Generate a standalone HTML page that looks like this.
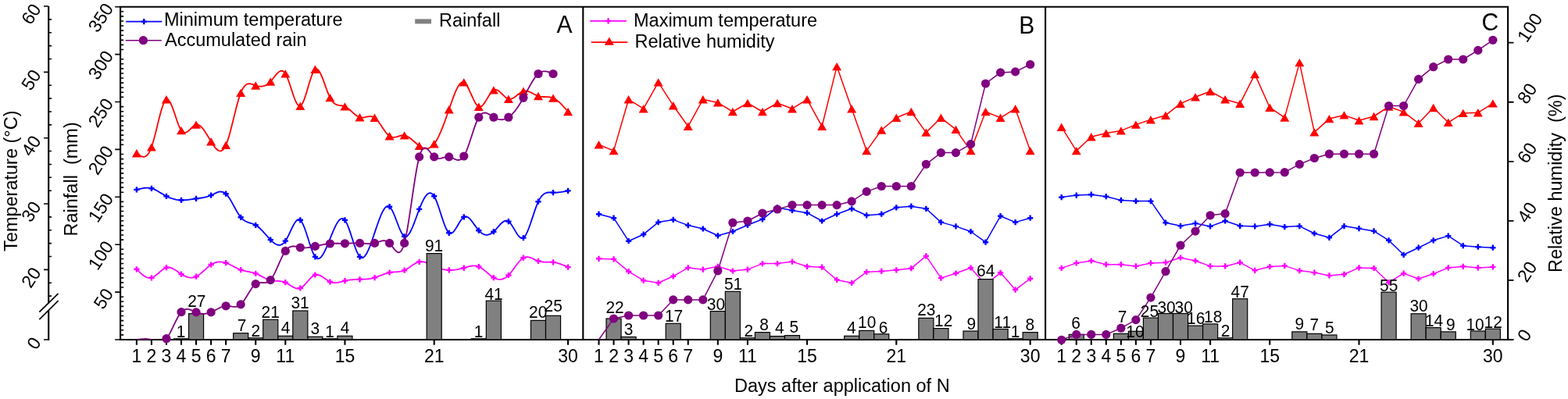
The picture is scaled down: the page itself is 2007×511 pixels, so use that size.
<!DOCTYPE html><html><head><meta charset="utf-8"><style>html,body{margin:0;padding:0;background:#fff;overflow:hidden}svg{display:block}</style></head><body>
<svg width="2007" height="511" viewBox="0 0 2007 511" font-family="Liberation Sans, Arial, sans-serif">
<defs><clipPath id="plot"><rect x="154" y="0" width="1776" height="435"/></clipPath></defs>
<g stroke="#000" stroke-width="2.1" fill="none">
<path d="M154.1,8.7 H1930.1 V435.0 H154.1 Z"/>
<path d="M746.3,8.7 V435.0 M1338.1,8.7 V435.0"/>
</g>
<path d="M174.90,435.0v6.8M193.94,435.0v6.8M212.98,435.0v6.8M232.02,435.0v6.8M251.06,435.0v6.8M270.10,435.0v6.8M289.14,435.0v6.8M327.22,435.0v6.8M365.30,435.0v6.8M441.46,435.0v6.8M555.70,435.0v6.8M727.06,435.0v6.8M766.50,435.0v6.8M785.54,435.0v6.8M804.58,435.0v6.8M823.62,435.0v6.8M842.66,435.0v6.8M861.70,435.0v6.8M880.74,435.0v6.8M918.82,435.0v6.8M956.90,435.0v6.8M1033.06,435.0v6.8M1147.30,435.0v6.8M1318.66,435.0v6.8M1358.70,435.0v6.8M1377.74,435.0v6.8M1396.78,435.0v6.8M1415.82,435.0v6.8M1434.86,435.0v6.8M1453.90,435.0v6.8M1472.94,435.0v6.8M1511.02,435.0v6.8M1549.10,435.0v6.8M1625.26,435.0v6.8M1739.50,435.0v6.8M1910.86,435.0v6.8" stroke="#000" stroke-width="2.1"/>
<text x="174.90" y="464.4" font-size="23" text-anchor="middle">1</text>
<text x="193.94" y="464.4" font-size="23" text-anchor="middle">2</text>
<text x="212.98" y="464.4" font-size="23" text-anchor="middle">3</text>
<text x="232.02" y="464.4" font-size="23" text-anchor="middle">4</text>
<text x="251.06" y="464.4" font-size="23" text-anchor="middle">5</text>
<text x="270.10" y="464.4" font-size="23" text-anchor="middle">6</text>
<text x="289.14" y="464.4" font-size="23" text-anchor="middle">7</text>
<text x="327.22" y="464.4" font-size="23" text-anchor="middle">9</text>
<text x="365.30" y="464.4" font-size="23" text-anchor="middle">11</text>
<text x="441.46" y="464.4" font-size="23" text-anchor="middle">15</text>
<text x="555.70" y="464.4" font-size="23" text-anchor="middle">21</text>
<text x="727.06" y="464.4" font-size="23" text-anchor="middle">30</text>
<text x="766.50" y="464.4" font-size="23" text-anchor="middle">1</text>
<text x="785.54" y="464.4" font-size="23" text-anchor="middle">2</text>
<text x="804.58" y="464.4" font-size="23" text-anchor="middle">3</text>
<text x="823.62" y="464.4" font-size="23" text-anchor="middle">4</text>
<text x="842.66" y="464.4" font-size="23" text-anchor="middle">5</text>
<text x="861.70" y="464.4" font-size="23" text-anchor="middle">6</text>
<text x="880.74" y="464.4" font-size="23" text-anchor="middle">7</text>
<text x="918.82" y="464.4" font-size="23" text-anchor="middle">9</text>
<text x="956.90" y="464.4" font-size="23" text-anchor="middle">11</text>
<text x="1033.06" y="464.4" font-size="23" text-anchor="middle">15</text>
<text x="1147.30" y="464.4" font-size="23" text-anchor="middle">21</text>
<text x="1318.66" y="464.4" font-size="23" text-anchor="middle">30</text>
<text x="1358.70" y="464.4" font-size="23" text-anchor="middle">1</text>
<text x="1377.74" y="464.4" font-size="23" text-anchor="middle">2</text>
<text x="1396.78" y="464.4" font-size="23" text-anchor="middle">3</text>
<text x="1415.82" y="464.4" font-size="23" text-anchor="middle">4</text>
<text x="1434.86" y="464.4" font-size="23" text-anchor="middle">5</text>
<text x="1453.90" y="464.4" font-size="23" text-anchor="middle">6</text>
<text x="1472.94" y="464.4" font-size="23" text-anchor="middle">7</text>
<text x="1511.02" y="464.4" font-size="23" text-anchor="middle">9</text>
<text x="1549.10" y="464.4" font-size="23" text-anchor="middle">11</text>
<text x="1625.26" y="464.4" font-size="23" text-anchor="middle">15</text>
<text x="1739.50" y="464.4" font-size="23" text-anchor="middle">21</text>
<text x="1910.86" y="464.4" font-size="23" text-anchor="middle">30</text>
<path d="M147.2,435.00H154.1M154.1,428.91H158.2M154.1,422.82H158.2M154.1,416.73H158.2M154.1,410.64H158.2M154.1,404.55H158.2M154.1,398.46H158.2M154.1,392.37H158.2M154.1,386.28H158.2M154.1,380.19H158.2M147.2,374.10H154.1M154.1,368.01H158.2M154.1,361.92H158.2M154.1,355.83H158.2M154.1,349.74H158.2M154.1,343.65H158.2M154.1,337.56H158.2M154.1,331.47H158.2M154.1,325.38H158.2M154.1,319.29H158.2M147.2,313.20H154.1M154.1,307.11H158.2M154.1,301.02H158.2M154.1,294.93H158.2M154.1,288.84H158.2M154.1,282.75H158.2M154.1,276.66H158.2M154.1,270.57H158.2M154.1,264.48H158.2M154.1,258.39H158.2M147.2,252.30H154.1M154.1,246.21H158.2M154.1,240.12H158.2M154.1,234.03H158.2M154.1,227.94H158.2M154.1,221.85H158.2M154.1,215.76H158.2M154.1,209.67H158.2M154.1,203.58H158.2M154.1,197.49H158.2M147.2,191.40H154.1M154.1,185.31H158.2M154.1,179.22H158.2M154.1,173.13H158.2M154.1,167.04H158.2M154.1,160.95H158.2M154.1,154.86H158.2M154.1,148.77H158.2M154.1,142.68H158.2M154.1,136.59H158.2M147.2,130.50H154.1M154.1,124.41H158.2M154.1,118.32H158.2M154.1,112.23H158.2M154.1,106.14H158.2M154.1,100.05H158.2M154.1,93.96H158.2M154.1,87.87H158.2M154.1,81.78H158.2M154.1,75.69H158.2M147.2,69.60H154.1M154.1,63.51H158.2M154.1,57.42H158.2M154.1,51.33H158.2M154.1,45.24H158.2M154.1,39.15H158.2M154.1,33.06H158.2M154.1,26.97H158.2M154.1,20.88H158.2M154.1,14.79H158.2M147.2,8.70H154.1" stroke="#000" stroke-width="1.6"/>
<text x="146.0" y="376.10" font-size="23" text-anchor="end" transform="rotate(-57 146.0 376.10)">50</text>
<text x="146.0" y="315.20" font-size="23" text-anchor="end" transform="rotate(-57 146.0 315.20)">100</text>
<text x="146.0" y="254.30" font-size="23" text-anchor="end" transform="rotate(-57 146.0 254.30)">150</text>
<text x="146.0" y="193.40" font-size="23" text-anchor="end" transform="rotate(-57 146.0 193.40)">200</text>
<text x="146.0" y="132.50" font-size="23" text-anchor="end" transform="rotate(-57 146.0 132.50)">250</text>
<text x="146.0" y="71.60" font-size="23" text-anchor="end" transform="rotate(-57 146.0 71.60)">300</text>
<text x="146.0" y="10.70" font-size="23" text-anchor="end" transform="rotate(-57 146.0 10.70)">350</text>
<path d="M62.2,8.0V388.5 M62.2,397.5V436.0" stroke="#000" stroke-width="2.1" fill="none"/>
<path d="M62.2,379.14H66M62.2,362.27H66M56,345.40H62.2M62.2,328.53H66M62.2,311.66H66M62.2,294.79H66M62.2,277.92H66M56,261.05H62.2M62.2,244.18H66M62.2,227.31H66M62.2,210.44H66M62.2,193.57H66M56,176.70H62.2M62.2,159.83H66M62.2,142.96H66M62.2,126.09H66M62.2,109.22H66M56,92.35H62.2M62.2,75.48H66M62.2,58.61H66M62.2,41.74H66M62.2,24.87H66M56,8.00H62.2M56,435.0H62.2" stroke="#000" stroke-width="1.6"/>
<path d="M50.3,399.7L74.6,375.8M50.3,409.1L74.6,385.2" stroke="#000" stroke-width="1.7"/>
<text x="53.5" y="11.50" font-size="23" text-anchor="end" transform="rotate(-57 53.5 11.50)">60</text>
<text x="53.5" y="95.85" font-size="23" text-anchor="end" transform="rotate(-57 53.5 95.85)">50</text>
<text x="53.5" y="180.20" font-size="23" text-anchor="end" transform="rotate(-57 53.5 180.20)">40</text>
<text x="53.5" y="264.55" font-size="23" text-anchor="end" transform="rotate(-57 53.5 264.55)">30</text>
<text x="53.5" y="348.90" font-size="23" text-anchor="end" transform="rotate(-57 53.5 348.90)">20</text>
<text x="53.5" y="438.50" font-size="23" text-anchor="end" transform="rotate(-57 53.5 438.50)">0</text>
<path d="M1930.1,435.00H1937.5M1930.1,358.94H1937.5M1930.1,282.88H1937.5M1930.1,206.82H1937.5M1930.1,130.76H1937.5M1930.1,54.70H1937.5" stroke="#000" stroke-width="1.8"/>
<text x="1954.3" y="439.00" font-size="23" transform="rotate(-57 1954.3 439.00)">0</text>
<text x="1954.3" y="362.94" font-size="23" transform="rotate(-57 1954.3 362.94)">20</text>
<text x="1954.3" y="286.88" font-size="23" transform="rotate(-57 1954.3 286.88)">40</text>
<text x="1954.3" y="210.82" font-size="23" transform="rotate(-57 1954.3 210.82)">60</text>
<text x="1954.3" y="134.76" font-size="23" transform="rotate(-57 1954.3 134.76)">80</text>
<text x="1954.3" y="55.70" font-size="23" transform="rotate(-57 1954.3 55.70)">100</text>
<text x="22.2" y="321.9" font-size="23.5" transform="rotate(-90 22.2 321.9)">Temperature (°C)</text>
<text x="99" y="302.5" font-size="23.5" transform="rotate(-90 99 302.5)" xml:space="preserve">Rainfall  (mm)</text>
<text x="1998.5" y="349" font-size="23.5" transform="rotate(-90 1998.5 349)" xml:space="preserve">Relative humidity  (%)</text>
<text x="940" y="502.2" font-size="23.5">Days after application of N</text>
<path d="M174.90,344.80 L176.63,346.52 L178.36,348.21 L180.09,349.82 L181.82,351.32 L183.55,352.68 L185.29,353.86 L187.02,354.83 L188.75,355.54 L190.48,355.96 L192.21,356.06 L193.94,355.80 L195.53,355.23 L197.11,354.38 L198.70,353.30 L200.29,352.06 L201.87,350.70 L203.46,349.29 L205.05,347.88 L206.63,346.52 L208.22,345.26 L209.81,344.17 L211.39,343.30 L212.98,342.70 L214.71,342.40 L216.44,342.45 L218.17,342.80 L219.90,343.41 L221.63,344.23 L223.37,345.22 L225.10,346.33 L226.83,347.52 L228.56,348.74 L230.29,349.95 L232.02,351.10 L233.75,352.16 L235.48,353.10 L237.21,353.91 L238.94,354.59 L240.67,355.11 L242.41,355.46 L244.14,355.62 L245.87,355.59 L247.60,355.36 L249.33,354.90 L251.06,354.20 L252.65,353.35 L254.23,352.32 L255.82,351.14 L257.41,349.85 L258.99,348.47 L260.58,347.03 L262.17,345.57 L263.75,344.12 L265.34,342.71 L266.93,341.36 L268.51,340.11 L270.10,339.00 L271.83,337.96 L273.56,337.11 L275.29,336.44 L277.02,335.94 L278.75,335.60 L280.49,335.43 L282.22,335.41 L283.95,335.53 L285.68,335.79 L287.41,336.18 L289.14,336.70 L290.73,337.28 L292.31,337.94 L293.90,338.67 L295.49,339.44 L297.07,340.26 L298.66,341.09 L300.25,341.93 L301.83,342.75 L303.42,343.55 L305.01,344.30 L306.59,344.99 L308.18,345.60 L309.77,346.12 L311.35,346.57 L312.94,346.96 L314.53,347.30 L316.11,347.61 L317.70,347.91 L319.29,348.21 L320.87,348.52 L322.46,348.88 L324.05,349.28 L325.63,349.75 L327.22,350.30 L328.95,351.01 L330.68,351.80 L332.41,352.67 L334.14,353.58 L335.87,354.50 L337.61,355.42 L339.34,356.30 L341.07,357.12 L342.80,357.87 L344.53,358.50 L346.26,359.00 L347.99,359.35 L349.72,359.58 L351.45,359.72 L353.18,359.80 L354.91,359.87 L356.65,359.94 L358.38,360.06 L360.11,360.27 L361.84,360.58 L363.57,361.05 L365.30,361.70 L366.89,362.47 L368.47,363.38 L370.06,364.37 L371.65,365.40 L373.23,366.41 L374.82,367.36 L376.41,368.20 L377.99,368.88 L379.58,369.35 L381.17,369.56 L382.75,369.46 L384.34,369.00 L386.07,368.06 L387.80,366.73 L389.53,365.10 L391.26,363.26 L392.99,361.29 L394.73,359.29 L396.46,357.35 L398.19,355.56 L399.92,354.02 L401.65,352.80 L403.38,352.00 L405.11,351.69 L406.84,351.81 L408.57,352.31 L410.30,353.10 L412.03,354.12 L413.77,355.30 L415.50,356.55 L417.23,357.83 L418.96,359.04 L420.69,360.12 L422.42,361.00 L424.01,361.58 L425.59,361.96 L427.18,362.16 L428.77,362.19 L430.35,362.09 L431.94,361.88 L433.53,361.59 L435.11,361.22 L436.70,360.82 L438.29,360.40 L439.87,359.99 L441.46,359.60 L443.19,359.24 L444.92,358.93 L446.65,358.67 L448.38,358.46 L450.11,358.29 L451.85,358.16 L453.58,358.05 L455.31,357.97 L457.04,357.90 L458.77,357.85 L460.50,357.80 L462.23,357.75 L463.96,357.70 L465.69,357.63 L467.42,357.53 L469.15,357.41 L470.89,357.25 L472.62,357.04 L474.35,356.78 L476.08,356.46 L477.81,356.07 L479.54,355.60 L481.13,355.10 L482.71,354.55 L484.30,353.95 L485.89,353.33 L487.47,352.69 L489.06,352.05 L490.65,351.42 L492.23,350.82 L493.82,350.27 L495.41,349.77 L496.99,349.34 L498.58,349.00 L500.31,348.73 L502.04,348.55 L503.77,348.43 L505.50,348.34 L507.23,348.25 L508.97,348.14 L510.70,347.98 L512.43,347.73 L514.16,347.37 L515.89,346.87 L517.62,346.20 L519.35,345.35 L521.08,344.34 L522.81,343.22 L524.54,342.03 L526.27,340.81 L528.01,339.60 L529.74,338.46 L531.47,337.41 L533.20,336.51 L534.93,335.79 L536.66,335.30 L538.39,335.07 L540.12,335.07 L541.85,335.29 L543.58,335.69 L545.31,336.24 L547.05,336.90 L548.78,337.66 L550.51,338.48 L552.24,339.33 L553.97,340.18 L555.70,341.00 L557.29,341.70 L558.87,342.36 L560.46,342.96 L562.05,343.51 L563.63,344.01 L565.22,344.45 L566.81,344.84 L568.39,345.17 L569.98,345.44 L571.57,345.65 L573.15,345.81 L574.74,345.90 L576.47,345.93 L578.20,345.90 L579.93,345.79 L581.66,345.63 L583.39,345.41 L585.13,345.14 L586.86,344.81 L588.59,344.44 L590.32,344.03 L592.05,343.58 L593.78,343.10 L595.51,342.59 L597.24,342.08 L598.97,341.58 L600.70,341.14 L602.43,340.77 L604.17,340.49 L605.90,340.34 L607.63,340.34 L609.36,340.52 L611.09,340.90 L612.82,341.50 L614.41,342.27 L615.99,343.21 L617.58,344.31 L619.17,345.52 L620.75,346.82 L622.34,348.17 L623.93,349.54 L625.51,350.90 L627.10,352.22 L628.69,353.46 L630.27,354.60 L631.86,355.60 L633.59,356.50 L635.32,357.19 L637.05,357.67 L638.78,357.91 L640.51,357.92 L642.25,357.68 L643.98,357.19 L645.71,356.43 L647.44,355.41 L649.17,354.10 L650.90,352.50 L652.63,350.62 L654.36,348.50 L656.09,346.22 L657.82,343.85 L659.55,341.44 L661.29,339.08 L663.02,336.82 L664.75,334.74 L666.48,332.89 L668.21,331.36 L669.94,330.20 L671.67,329.46 L673.40,329.12 L675.13,329.10 L676.86,329.36 L678.59,329.85 L680.33,330.50 L682.06,331.26 L683.79,332.07 L685.52,332.89 L687.25,333.65 L688.98,334.30 L690.57,334.76 L692.15,335.10 L693.74,335.34 L695.33,335.49 L696.91,335.57 L698.50,335.61 L700.09,335.62 L701.67,335.62 L703.26,335.63 L704.85,335.67 L706.43,335.75 L708.02,335.90 L709.75,336.15 L711.48,336.49 L713.21,336.91 L714.94,337.40 L716.67,337.96 L718.41,338.56 L720.14,339.22 L721.87,339.91 L723.60,340.62 L725.33,341.36 L727.06,342.10" stroke="#ff00ff" stroke-width="1.8" fill="none" stroke-linejoin="round" clip-path="url(#plot)"/>
<path d="M174.90,242.90 L176.63,242.45 L178.36,242.02 L180.09,241.62 L181.82,241.27 L183.55,240.97 L185.29,240.75 L187.02,240.62 L188.75,240.59 L190.48,240.69 L192.21,240.92 L193.94,241.30 L195.53,241.79 L197.11,242.40 L198.70,243.11 L200.29,243.91 L201.87,244.78 L203.46,245.70 L205.05,246.66 L206.63,247.62 L208.22,248.59 L209.81,249.54 L211.39,250.45 L212.98,251.30 L214.71,252.15 L216.44,252.92 L218.17,253.60 L219.90,254.21 L221.63,254.73 L223.37,255.18 L225.10,255.55 L226.83,255.84 L228.56,256.07 L230.29,256.22 L232.02,256.30 L233.75,256.32 L235.48,256.27 L237.21,256.18 L238.94,256.04 L240.67,255.86 L242.41,255.65 L244.14,255.41 L245.87,255.16 L247.60,254.91 L249.33,254.65 L251.06,254.40 L252.65,254.18 L254.23,253.96 L255.82,253.74 L257.41,253.50 L258.99,253.25 L260.58,252.96 L262.17,252.63 L263.75,252.25 L265.34,251.82 L266.93,251.32 L268.51,250.75 L270.10,250.10 L271.83,249.30 L273.56,248.44 L275.29,247.60 L277.02,246.83 L278.75,246.18 L280.49,245.71 L282.22,245.49 L283.95,245.57 L285.68,246.01 L287.41,246.87 L289.14,248.20 L290.73,249.87 L292.31,251.92 L293.90,254.29 L295.49,256.90 L297.07,259.68 L298.66,262.57 L300.25,265.50 L301.83,268.39 L303.42,271.19 L305.01,273.82 L306.59,276.21 L308.18,278.30 L309.77,280.03 L311.35,281.44 L312.94,282.57 L314.53,283.48 L316.11,284.20 L317.70,284.79 L319.29,285.30 L320.87,285.78 L322.46,286.26 L324.05,286.82 L325.63,287.48 L327.22,288.30 L328.95,289.42 L330.68,290.75 L332.41,292.27 L334.14,293.94 L335.87,295.72 L337.61,297.60 L339.34,299.52 L341.07,301.46 L342.80,303.40 L344.53,305.29 L346.26,307.10 L347.99,308.80 L349.72,310.34 L351.45,311.67 L353.18,312.74 L354.91,313.50 L356.65,313.89 L358.38,313.87 L360.11,313.38 L361.84,312.37 L363.57,310.79 L365.30,308.60 L366.89,306.03 L368.47,303.04 L370.06,299.78 L371.65,296.39 L373.23,293.00 L374.82,289.78 L376.41,286.86 L377.99,284.38 L379.58,282.49 L381.17,281.33 L382.75,281.06 L384.34,281.80 L386.07,283.87 L387.80,287.10 L389.53,291.24 L391.26,296.06 L392.99,301.32 L394.73,306.78 L396.46,312.21 L398.19,317.38 L399.92,322.04 L401.65,325.96 L403.38,328.90 L404.97,330.58 L406.55,331.33 L408.14,331.22 L409.73,330.35 L411.31,328.80 L412.90,326.65 L414.49,323.98 L416.07,320.89 L417.66,317.45 L419.25,313.75 L420.83,309.88 L422.42,305.91 L424.01,301.94 L425.59,298.04 L427.18,294.31 L428.77,290.82 L430.35,287.66 L431.94,284.92 L433.53,282.67 L435.11,281.01 L436.70,280.02 L438.29,279.78 L439.87,280.38 L441.46,281.90 L443.19,284.65 L444.92,288.38 L446.65,292.85 L448.38,297.85 L450.11,303.16 L451.85,308.55 L453.58,313.80 L455.31,318.68 L457.04,322.97 L458.77,326.45 L460.50,328.90 L462.09,330.09 L463.67,330.31 L465.26,329.64 L466.85,328.18 L468.43,326.00 L470.02,323.21 L471.61,319.87 L473.19,316.08 L474.78,311.93 L476.37,307.50 L477.95,302.88 L479.54,298.16 L481.13,293.41 L482.71,288.73 L484.30,284.21 L485.89,279.93 L487.47,275.97 L489.06,272.43 L490.65,269.39 L492.23,266.93 L493.82,265.15 L495.41,264.12 L496.99,263.95 L498.58,264.70 L500.31,266.63 L502.04,269.55 L503.77,273.23 L505.50,277.44 L507.23,281.95 L508.97,286.55 L510.70,291.00 L512.43,295.08 L514.16,298.55 L515.89,301.20 L517.62,302.80 L519.35,303.18 L521.08,302.42 L522.81,300.67 L524.54,298.06 L526.27,294.75 L528.01,290.87 L529.74,286.56 L531.47,281.96 L533.20,277.23 L534.93,272.49 L536.66,267.90 L538.39,263.58 L540.12,259.62 L541.85,256.08 L543.58,253.03 L545.31,250.54 L547.05,248.68 L548.78,247.53 L550.51,247.14 L552.24,247.60 L553.97,248.96 L555.70,251.30 L557.29,254.33 L558.87,258.07 L560.46,262.35 L562.05,267.02 L563.63,271.91 L565.22,276.85 L566.81,281.68 L568.39,286.22 L569.98,290.32 L571.57,293.81 L573.15,296.53 L574.74,298.30 L576.47,299.03 L578.20,298.65 L579.93,297.35 L581.66,295.33 L583.39,292.79 L585.13,289.94 L586.86,286.97 L588.59,284.08 L590.32,281.47 L592.05,279.34 L593.78,277.90 L595.51,277.29 L597.24,277.45 L598.97,278.26 L600.70,279.63 L602.43,281.44 L604.17,283.56 L605.90,285.91 L607.63,288.36 L609.36,290.79 L611.09,293.11 L612.82,295.20 L614.41,296.83 L615.99,298.18 L617.58,299.24 L619.17,300.03 L620.75,300.54 L622.34,300.78 L623.93,300.75 L625.51,300.46 L627.10,299.90 L628.69,299.09 L630.27,298.02 L631.86,296.70 L633.59,294.99 L635.32,293.09 L637.05,291.09 L638.78,289.09 L640.51,287.19 L642.25,285.50 L643.98,284.12 L645.71,283.13 L647.44,282.65 L649.17,282.77 L650.90,283.60 L652.63,285.18 L654.36,287.38 L656.09,290.02 L657.82,292.90 L659.55,295.85 L661.29,298.68 L663.02,301.21 L664.75,303.25 L666.48,304.62 L668.21,305.13 L669.94,304.60 L671.67,302.91 L673.40,300.17 L675.13,296.56 L676.86,292.27 L678.59,287.48 L680.33,282.36 L682.06,277.10 L683.79,271.87 L685.52,266.86 L687.25,262.24 L688.98,258.20 L690.57,255.12 L692.15,252.62 L693.74,250.64 L695.33,249.12 L696.91,248.00 L698.50,247.23 L700.09,246.75 L701.67,246.49 L703.26,246.41 L704.85,246.44 L706.43,246.52 L708.02,246.60 L709.75,246.63 L711.48,246.60 L713.21,246.50 L714.94,246.35 L716.67,246.16 L718.41,245.93 L720.14,245.66 L721.87,245.37 L723.60,245.06 L725.33,244.73 L727.06,244.40" stroke="#0000ff" stroke-width="1.8" fill="none" stroke-linejoin="round" clip-path="url(#plot)"/>
<path d="M174.90,196.20 L176.63,197.53 L178.36,198.75 L180.09,199.77 L181.82,200.49 L183.55,200.80 L185.29,200.60 L187.02,199.79 L188.75,198.26 L190.48,195.92 L192.21,192.67 L193.94,188.40 L195.53,183.55 L197.11,177.97 L198.70,171.86 L200.29,165.43 L201.87,158.89 L203.46,152.44 L205.05,146.29 L206.63,140.65 L208.22,135.72 L209.81,131.72 L211.39,128.84 L212.98,127.30 L214.71,127.29 L216.44,128.84 L218.17,131.68 L219.90,135.51 L221.63,140.07 L223.37,145.07 L225.10,150.25 L226.83,155.32 L228.56,160.00 L230.29,164.02 L232.02,167.10 L233.75,169.04 L235.48,169.93 L237.21,169.95 L238.94,169.28 L240.67,168.08 L242.41,166.53 L244.14,164.80 L245.87,163.07 L247.60,161.51 L249.33,160.30 L251.06,159.60 L252.65,159.53 L254.23,159.99 L255.82,160.91 L257.41,162.25 L258.99,163.95 L260.58,165.95 L262.17,168.20 L263.75,170.64 L265.34,173.21 L266.93,175.87 L268.51,178.55 L270.10,181.20 L271.83,183.99 L273.56,186.58 L275.29,188.89 L277.02,190.81 L278.75,192.27 L280.49,193.16 L282.22,193.39 L283.95,192.87 L285.68,191.51 L287.41,189.22 L289.14,185.90 L290.73,181.91 L292.31,177.13 L293.90,171.72 L295.49,165.81 L297.07,159.56 L298.66,153.12 L300.25,146.64 L301.83,140.27 L303.42,134.17 L305.01,128.47 L306.59,123.33 L308.18,118.90 L309.77,115.29 L311.35,112.47 L312.94,110.34 L314.53,108.84 L316.11,107.87 L317.70,107.36 L319.29,107.24 L320.87,107.41 L322.46,107.80 L324.05,108.34 L325.63,108.93 L327.22,109.50 L328.95,110.02 L330.68,110.40 L332.41,110.63 L334.14,110.67 L335.87,110.53 L337.61,110.17 L339.34,109.57 L341.07,108.73 L342.80,107.61 L344.53,106.21 L346.26,104.50 L347.99,102.49 L349.72,100.29 L351.45,98.03 L353.18,95.86 L354.91,93.90 L356.65,92.30 L358.38,91.19 L360.11,90.71 L361.84,91.00 L363.57,92.18 L365.30,94.40 L366.89,97.41 L368.47,101.20 L370.06,105.55 L371.65,110.26 L373.23,115.13 L374.82,119.93 L376.41,124.46 L377.99,128.52 L379.58,131.89 L381.17,134.37 L382.75,135.74 L384.34,135.80 L386.07,134.22 L387.80,131.15 L389.53,126.90 L391.26,121.79 L392.99,116.15 L394.73,110.29 L396.46,104.52 L398.19,99.17 L399.92,94.55 L401.65,90.99 L403.38,88.80 L405.11,88.21 L406.84,89.07 L408.57,91.17 L410.30,94.28 L412.03,98.17 L413.77,102.61 L415.50,107.37 L417.23,112.23 L418.96,116.95 L420.69,121.32 L422.42,125.10 L424.01,127.90 L425.59,130.09 L427.18,131.76 L428.77,132.99 L430.35,133.85 L431.94,134.43 L433.53,134.80 L435.11,135.05 L436.70,135.26 L438.29,135.50 L439.87,135.85 L441.46,136.40 L443.19,137.29 L444.92,138.44 L446.65,139.79 L448.38,141.28 L450.11,142.85 L451.85,144.42 L453.58,145.94 L455.31,147.34 L457.04,148.56 L458.77,149.53 L460.50,150.20 L462.23,150.52 L463.96,150.54 L465.69,150.36 L467.42,150.04 L469.15,149.67 L470.89,149.32 L472.62,149.09 L474.35,149.03 L476.08,149.25 L477.81,149.81 L479.54,150.80 L481.13,152.13 L482.71,153.81 L484.30,155.77 L485.89,157.94 L487.47,160.25 L489.06,162.63 L490.65,165.00 L492.23,167.30 L493.82,169.45 L495.41,171.38 L496.99,173.02 L498.58,174.30 L500.31,175.23 L502.04,175.72 L503.77,175.85 L505.50,175.70 L507.23,175.34 L508.97,174.87 L510.70,174.35 L512.43,173.86 L514.16,173.49 L515.89,173.31 L517.62,173.40 L519.35,173.82 L521.08,174.53 L522.81,175.51 L524.54,176.69 L526.27,178.03 L528.01,179.48 L529.74,181.00 L531.47,182.54 L533.20,184.05 L534.93,185.49 L536.66,186.80 L538.39,187.95 L540.12,188.90 L541.85,189.63 L543.58,190.12 L545.31,190.32 L547.05,190.23 L548.78,189.81 L550.51,189.03 L552.24,187.87 L553.97,186.30 L555.70,184.30 L557.29,182.07 L558.87,179.48 L560.46,176.56 L562.05,173.34 L563.63,169.84 L565.22,166.11 L566.81,162.15 L568.39,158.02 L569.98,153.73 L571.57,149.31 L573.15,144.79 L574.74,140.20 L576.47,135.16 L578.20,130.18 L579.93,125.36 L581.66,120.81 L583.39,116.64 L585.13,112.94 L586.86,109.84 L588.59,107.42 L590.32,105.81 L592.05,105.10 L593.78,105.40 L595.51,106.77 L597.24,109.04 L598.97,112.02 L600.70,115.51 L602.43,119.29 L604.17,123.16 L605.90,126.92 L607.63,130.35 L609.36,133.27 L611.09,135.45 L612.82,136.70 L614.41,136.90 L615.99,136.28 L617.58,134.98 L619.17,133.13 L620.75,130.88 L622.34,128.37 L623.93,125.72 L625.51,123.08 L627.10,120.60 L628.69,118.39 L630.27,116.62 L631.86,115.40 L633.59,114.83 L635.32,114.96 L637.05,115.66 L638.78,116.82 L640.51,118.30 L642.25,119.98 L643.98,121.72 L645.71,123.40 L647.44,124.89 L649.17,126.07 L650.90,126.80 L652.63,126.99 L654.36,126.70 L656.09,126.02 L657.82,125.02 L659.55,123.81 L661.29,122.46 L663.02,121.07 L664.75,119.72 L666.48,118.50 L668.21,117.49 L669.94,116.80 L671.67,116.48 L673.40,116.49 L675.13,116.79 L676.86,117.33 L678.59,118.04 L680.33,118.87 L682.06,119.78 L683.79,120.70 L685.52,121.57 L687.25,122.36 L688.98,123.00 L690.57,123.42 L692.15,123.70 L693.74,123.88 L695.33,123.98 L696.91,124.02 L698.50,124.06 L700.09,124.10 L701.67,124.19 L703.26,124.36 L704.85,124.62 L706.43,125.03 L708.02,125.60 L709.75,126.44 L711.48,127.49 L713.21,128.73 L714.94,130.14 L716.67,131.70 L718.41,133.39 L720.14,135.18 L721.87,137.06 L723.60,139.01 L725.33,140.99 L727.06,143.00" stroke="#ff0000" stroke-width="1.8" fill="none" stroke-linejoin="round" clip-path="url(#plot)"/>
<path d="M766.50,331.30 L785.54,331.90 L804.58,347.60 L823.62,359.20 L842.66,362.30 L861.70,353.80 L880.74,342.90 L899.78,345.10 L918.82,341.30 L937.86,347.00 L956.90,345.10 L975.94,337.60 L994.98,337.60 L1014.02,335.10 L1033.06,341.30 L1052.10,342.20 L1071.14,358.40 L1090.18,362.30 L1109.22,348.30 L1128.26,347.40 L1147.30,345.80 L1166.34,343.70 L1185.38,327.90 L1204.42,356.10 L1223.46,350.00 L1242.50,343.00 L1261.54,364.50 L1280.58,349.30 L1299.62,371.10 L1318.66,356.80" stroke="#ff00ff" stroke-width="1.5" fill="none" stroke-linejoin="round" clip-path="url(#plot)"/>
<path d="M766.50,274.20 L785.54,279.20 L804.58,308.70 L823.62,300.20 L842.66,284.60 L861.70,281.40 L880.74,288.60 L899.78,293.00 L918.82,301.80 L937.86,296.50 L956.90,288.30 L975.94,280.80 L994.98,265.80 L1014.02,269.50 L1033.06,272.70 L1052.10,283.00 L1071.14,274.20 L1090.18,267.30 L1109.22,275.80 L1128.26,274.20 L1147.30,265.80 L1166.34,264.20 L1185.38,267.30 L1204.42,284.60 L1223.46,289.90 L1242.50,296.50 L1261.54,310.20 L1280.58,276.70 L1299.62,284.60 L1318.66,279.20" stroke="#0000ff" stroke-width="1.5" fill="none" stroke-linejoin="round" clip-path="url(#plot)"/>
<path d="M766.50,185.30 L785.54,193.10 L804.58,127.30 L823.62,139.20 L842.66,105.40 L861.70,135.20 L880.74,161.80 L899.78,127.30 L918.82,131.40 L937.86,143.00 L956.90,132.00 L975.94,143.00 L994.98,132.00 L1014.02,139.20 L1033.06,127.30 L1052.10,161.80 L1071.14,85.10 L1090.18,139.20 L1109.22,193.10 L1128.26,166.50 L1147.30,150.80 L1166.34,143.00 L1185.38,169.60 L1204.42,150.80 L1223.46,165.90 L1242.50,193.10 L1261.54,143.00 L1280.58,150.80 L1299.62,139.20 L1318.66,193.10" stroke="#ff0000" stroke-width="1.5" fill="none" stroke-linejoin="round" clip-path="url(#plot)"/>
<path d="M1358.70,343.40 L1377.74,336.90 L1396.78,334.00 L1415.82,338.70 L1434.86,338.70 L1453.90,340.90 L1472.94,336.90 L1491.98,336.20 L1511.02,330.00 L1530.06,334.00 L1549.10,340.90 L1568.14,340.90 L1587.18,336.20 L1606.22,346.30 L1625.26,341.50 L1644.30,340.40 L1663.34,346.60 L1682.38,349.10 L1701.42,352.90 L1720.46,351.30 L1739.50,342.90 L1758.54,343.50 L1777.58,361.70 L1796.62,350.10 L1815.66,357.00 L1834.70,350.70 L1853.74,342.90 L1872.78,341.30 L1891.82,342.90 L1910.86,341.90" stroke="#ff00ff" stroke-width="1.5" fill="none" stroke-linejoin="round" clip-path="url(#plot)"/>
<path d="M1358.70,252.60 L1377.74,250.10 L1396.78,249.20 L1415.82,251.70 L1434.86,256.40 L1453.90,257.60 L1472.94,257.60 L1491.98,285.20 L1511.02,289.30 L1530.06,286.10 L1549.10,289.90 L1568.14,283.00 L1587.18,289.30 L1606.22,289.90 L1625.26,287.20 L1644.30,290.60 L1663.34,289.60 L1682.38,299.00 L1701.42,304.30 L1720.46,289.60 L1739.50,292.70 L1758.54,295.90 L1777.58,307.80 L1796.62,326.30 L1815.66,317.20 L1834.70,307.80 L1853.74,302.10 L1872.78,314.70 L1891.82,316.20 L1910.86,317.20" stroke="#0000ff" stroke-width="1.5" fill="none" stroke-linejoin="round" clip-path="url(#plot)"/>
<path d="M1358.70,162.70 L1377.74,193.10 L1396.78,175.30 L1415.82,170.60 L1434.86,167.40 L1453.90,159.60 L1472.94,153.30 L1491.98,147.70 L1511.02,132.70 L1530.06,124.20 L1549.10,117.00 L1568.14,127.30 L1587.18,132.70 L1606.22,95.10 L1625.26,137.70 L1644.30,150.60 L1663.34,80.10 L1682.38,169.40 L1701.42,152.10 L1720.46,147.40 L1739.50,154.30 L1758.54,149.00 L1777.58,136.50 L1796.62,143.40 L1815.66,157.80 L1834.70,138.00 L1853.74,156.80 L1872.78,144.90 L1891.82,144.30 L1910.86,132.40" stroke="#ff0000" stroke-width="1.5" fill="none" stroke-linejoin="round" clip-path="url(#plot)"/>
<path d="M171.30,344.80h7.20M174.90,341.20v7.20" stroke="#ff00ff" stroke-width="2.4" fill="none"/>
<path d="M190.34,355.80h7.20M193.94,352.20v7.20" stroke="#ff00ff" stroke-width="2.4" fill="none"/>
<path d="M209.38,342.70h7.20M212.98,339.10v7.20" stroke="#ff00ff" stroke-width="2.4" fill="none"/>
<path d="M228.42,351.10h7.20M232.02,347.50v7.20" stroke="#ff00ff" stroke-width="2.4" fill="none"/>
<path d="M247.46,354.20h7.20M251.06,350.60v7.20" stroke="#ff00ff" stroke-width="2.4" fill="none"/>
<path d="M266.50,339.00h7.20M270.10,335.40v7.20" stroke="#ff00ff" stroke-width="2.4" fill="none"/>
<path d="M285.54,336.70h7.20M289.14,333.10v7.20" stroke="#ff00ff" stroke-width="2.4" fill="none"/>
<path d="M304.58,345.60h7.20M308.18,342.00v7.20" stroke="#ff00ff" stroke-width="2.4" fill="none"/>
<path d="M323.62,350.30h7.20M327.22,346.70v7.20" stroke="#ff00ff" stroke-width="2.4" fill="none"/>
<path d="M342.66,359.00h7.20M346.26,355.40v7.20" stroke="#ff00ff" stroke-width="2.4" fill="none"/>
<path d="M361.70,361.70h7.20M365.30,358.10v7.20" stroke="#ff00ff" stroke-width="2.4" fill="none"/>
<path d="M380.74,369.00h7.20M384.34,365.40v7.20" stroke="#ff00ff" stroke-width="2.4" fill="none"/>
<path d="M399.78,352.00h7.20M403.38,348.40v7.20" stroke="#ff00ff" stroke-width="2.4" fill="none"/>
<path d="M418.82,361.00h7.20M422.42,357.40v7.20" stroke="#ff00ff" stroke-width="2.4" fill="none"/>
<path d="M437.86,359.60h7.20M441.46,356.00v7.20" stroke="#ff00ff" stroke-width="2.4" fill="none"/>
<path d="M456.90,357.80h7.20M460.50,354.20v7.20" stroke="#ff00ff" stroke-width="2.4" fill="none"/>
<path d="M475.94,355.60h7.20M479.54,352.00v7.20" stroke="#ff00ff" stroke-width="2.4" fill="none"/>
<path d="M494.98,349.00h7.20M498.58,345.40v7.20" stroke="#ff00ff" stroke-width="2.4" fill="none"/>
<path d="M514.02,346.20h7.20M517.62,342.60v7.20" stroke="#ff00ff" stroke-width="2.4" fill="none"/>
<path d="M533.06,335.30h7.20M536.66,331.70v7.20" stroke="#ff00ff" stroke-width="2.4" fill="none"/>
<path d="M552.10,341.00h7.20M555.70,337.40v7.20" stroke="#ff00ff" stroke-width="2.4" fill="none"/>
<path d="M571.14,345.90h7.20M574.74,342.30v7.20" stroke="#ff00ff" stroke-width="2.4" fill="none"/>
<path d="M590.18,343.10h7.20M593.78,339.50v7.20" stroke="#ff00ff" stroke-width="2.4" fill="none"/>
<path d="M609.22,341.50h7.20M612.82,337.90v7.20" stroke="#ff00ff" stroke-width="2.4" fill="none"/>
<path d="M628.26,355.60h7.20M631.86,352.00v7.20" stroke="#ff00ff" stroke-width="2.4" fill="none"/>
<path d="M647.30,352.50h7.20M650.90,348.90v7.20" stroke="#ff00ff" stroke-width="2.4" fill="none"/>
<path d="M666.34,330.20h7.20M669.94,326.60v7.20" stroke="#ff00ff" stroke-width="2.4" fill="none"/>
<path d="M685.38,334.30h7.20M688.98,330.70v7.20" stroke="#ff00ff" stroke-width="2.4" fill="none"/>
<path d="M704.42,335.90h7.20M708.02,332.30v7.20" stroke="#ff00ff" stroke-width="2.4" fill="none"/>
<path d="M723.46,342.10h7.20M727.06,338.50v7.20" stroke="#ff00ff" stroke-width="2.4" fill="none"/>
<path d="M171.30,242.90h7.20M174.90,239.30v7.20" stroke="#0000ff" stroke-width="2.4" fill="none"/>
<path d="M190.34,241.30h7.20M193.94,237.70v7.20" stroke="#0000ff" stroke-width="2.4" fill="none"/>
<path d="M209.38,251.30h7.20M212.98,247.70v7.20" stroke="#0000ff" stroke-width="2.4" fill="none"/>
<path d="M228.42,256.30h7.20M232.02,252.70v7.20" stroke="#0000ff" stroke-width="2.4" fill="none"/>
<path d="M247.46,254.40h7.20M251.06,250.80v7.20" stroke="#0000ff" stroke-width="2.4" fill="none"/>
<path d="M266.50,250.10h7.20M270.10,246.50v7.20" stroke="#0000ff" stroke-width="2.4" fill="none"/>
<path d="M285.54,248.20h7.20M289.14,244.60v7.20" stroke="#0000ff" stroke-width="2.4" fill="none"/>
<path d="M304.58,278.30h7.20M308.18,274.70v7.20" stroke="#0000ff" stroke-width="2.4" fill="none"/>
<path d="M323.62,288.30h7.20M327.22,284.70v7.20" stroke="#0000ff" stroke-width="2.4" fill="none"/>
<path d="M342.66,307.10h7.20M346.26,303.50v7.20" stroke="#0000ff" stroke-width="2.4" fill="none"/>
<path d="M361.70,308.60h7.20M365.30,305.00v7.20" stroke="#0000ff" stroke-width="2.4" fill="none"/>
<path d="M380.74,281.80h7.20M384.34,278.20v7.20" stroke="#0000ff" stroke-width="2.4" fill="none"/>
<path d="M399.78,328.90h7.20M403.38,325.30v7.20" stroke="#0000ff" stroke-width="2.4" fill="none"/>
<path d="M437.86,281.90h7.20M441.46,278.30v7.20" stroke="#0000ff" stroke-width="2.4" fill="none"/>
<path d="M456.90,328.90h7.20M460.50,325.30v7.20" stroke="#0000ff" stroke-width="2.4" fill="none"/>
<path d="M494.98,264.70h7.20M498.58,261.10v7.20" stroke="#0000ff" stroke-width="2.4" fill="none"/>
<path d="M514.02,302.80h7.20M517.62,299.20v7.20" stroke="#0000ff" stroke-width="2.4" fill="none"/>
<path d="M533.06,267.90h7.20M536.66,264.30v7.20" stroke="#0000ff" stroke-width="2.4" fill="none"/>
<path d="M552.10,251.30h7.20M555.70,247.70v7.20" stroke="#0000ff" stroke-width="2.4" fill="none"/>
<path d="M571.14,298.30h7.20M574.74,294.70v7.20" stroke="#0000ff" stroke-width="2.4" fill="none"/>
<path d="M590.18,277.90h7.20M593.78,274.30v7.20" stroke="#0000ff" stroke-width="2.4" fill="none"/>
<path d="M609.22,295.20h7.20M612.82,291.60v7.20" stroke="#0000ff" stroke-width="2.4" fill="none"/>
<path d="M628.26,296.70h7.20M631.86,293.10v7.20" stroke="#0000ff" stroke-width="2.4" fill="none"/>
<path d="M647.30,283.60h7.20M650.90,280.00v7.20" stroke="#0000ff" stroke-width="2.4" fill="none"/>
<path d="M666.34,304.60h7.20M669.94,301.00v7.20" stroke="#0000ff" stroke-width="2.4" fill="none"/>
<path d="M685.38,258.20h7.20M688.98,254.60v7.20" stroke="#0000ff" stroke-width="2.4" fill="none"/>
<path d="M704.42,246.60h7.20M708.02,243.00v7.20" stroke="#0000ff" stroke-width="2.4" fill="none"/>
<path d="M723.46,244.40h7.20M727.06,240.80v7.20" stroke="#0000ff" stroke-width="2.4" fill="none"/>
<path d="M174.90,191.00L180.90,201.40L168.90,201.40Z" fill="#ff0000"/>
<path d="M193.94,183.20L199.94,193.60L187.94,193.60Z" fill="#ff0000"/>
<path d="M212.98,122.10L218.98,132.50L206.98,132.50Z" fill="#ff0000"/>
<path d="M232.02,161.90L238.02,172.30L226.02,172.30Z" fill="#ff0000"/>
<path d="M251.06,154.40L257.06,164.80L245.06,164.80Z" fill="#ff0000"/>
<path d="M270.10,176.00L276.10,186.40L264.10,186.40Z" fill="#ff0000"/>
<path d="M289.14,180.70L295.14,191.10L283.14,191.10Z" fill="#ff0000"/>
<path d="M308.18,113.70L314.18,124.10L302.18,124.10Z" fill="#ff0000"/>
<path d="M327.22,104.30L333.22,114.70L321.22,114.70Z" fill="#ff0000"/>
<path d="M346.26,99.30L352.26,109.70L340.26,109.70Z" fill="#ff0000"/>
<path d="M365.30,89.20L371.30,99.60L359.30,99.60Z" fill="#ff0000"/>
<path d="M384.34,130.60L390.34,141.00L378.34,141.00Z" fill="#ff0000"/>
<path d="M403.38,83.60L409.38,94.00L397.38,94.00Z" fill="#ff0000"/>
<path d="M422.42,119.90L428.42,130.30L416.42,130.30Z" fill="#ff0000"/>
<path d="M441.46,131.20L447.46,141.60L435.46,141.60Z" fill="#ff0000"/>
<path d="M460.50,145.00L466.50,155.40L454.50,155.40Z" fill="#ff0000"/>
<path d="M479.54,145.60L485.54,156.00L473.54,156.00Z" fill="#ff0000"/>
<path d="M498.58,169.10L504.58,179.50L492.58,179.50Z" fill="#ff0000"/>
<path d="M517.62,168.20L523.62,178.60L511.62,178.60Z" fill="#ff0000"/>
<path d="M536.66,181.60L542.66,192.00L530.66,192.00Z" fill="#ff0000"/>
<path d="M555.70,179.10L561.70,189.50L549.70,189.50Z" fill="#ff0000"/>
<path d="M574.74,135.00L580.74,145.40L568.74,145.40Z" fill="#ff0000"/>
<path d="M593.78,100.20L599.78,110.60L587.78,110.60Z" fill="#ff0000"/>
<path d="M612.82,131.50L618.82,141.90L606.82,141.90Z" fill="#ff0000"/>
<path d="M631.86,110.20L637.86,120.60L625.86,120.60Z" fill="#ff0000"/>
<path d="M650.90,121.60L656.90,132.00L644.90,132.00Z" fill="#ff0000"/>
<path d="M669.94,111.60L675.94,122.00L663.94,122.00Z" fill="#ff0000"/>
<path d="M688.98,117.80L694.98,128.20L682.98,128.20Z" fill="#ff0000"/>
<path d="M708.02,120.40L714.02,130.80L702.02,130.80Z" fill="#ff0000"/>
<path d="M727.06,137.80L733.06,148.20L721.06,148.20Z" fill="#ff0000"/>
<path d="M762.90,331.30h7.20M766.50,327.70v7.20" stroke="#ff00ff" stroke-width="2.4" fill="none"/>
<path d="M781.94,331.90h7.20M785.54,328.30v7.20" stroke="#ff00ff" stroke-width="2.4" fill="none"/>
<path d="M800.98,347.60h7.20M804.58,344.00v7.20" stroke="#ff00ff" stroke-width="2.4" fill="none"/>
<path d="M820.02,359.20h7.20M823.62,355.60v7.20" stroke="#ff00ff" stroke-width="2.4" fill="none"/>
<path d="M839.06,362.30h7.20M842.66,358.70v7.20" stroke="#ff00ff" stroke-width="2.4" fill="none"/>
<path d="M858.10,353.80h7.20M861.70,350.20v7.20" stroke="#ff00ff" stroke-width="2.4" fill="none"/>
<path d="M877.14,342.90h7.20M880.74,339.30v7.20" stroke="#ff00ff" stroke-width="2.4" fill="none"/>
<path d="M896.18,345.10h7.20M899.78,341.50v7.20" stroke="#ff00ff" stroke-width="2.4" fill="none"/>
<path d="M915.22,341.30h7.20M918.82,337.70v7.20" stroke="#ff00ff" stroke-width="2.4" fill="none"/>
<path d="M934.26,347.00h7.20M937.86,343.40v7.20" stroke="#ff00ff" stroke-width="2.4" fill="none"/>
<path d="M953.30,345.10h7.20M956.90,341.50v7.20" stroke="#ff00ff" stroke-width="2.4" fill="none"/>
<path d="M972.34,337.60h7.20M975.94,334.00v7.20" stroke="#ff00ff" stroke-width="2.4" fill="none"/>
<path d="M991.38,337.60h7.20M994.98,334.00v7.20" stroke="#ff00ff" stroke-width="2.4" fill="none"/>
<path d="M1010.42,335.10h7.20M1014.02,331.50v7.20" stroke="#ff00ff" stroke-width="2.4" fill="none"/>
<path d="M1029.46,341.30h7.20M1033.06,337.70v7.20" stroke="#ff00ff" stroke-width="2.4" fill="none"/>
<path d="M1048.50,342.20h7.20M1052.10,338.60v7.20" stroke="#ff00ff" stroke-width="2.4" fill="none"/>
<path d="M1067.54,358.40h7.20M1071.14,354.80v7.20" stroke="#ff00ff" stroke-width="2.4" fill="none"/>
<path d="M1086.58,362.30h7.20M1090.18,358.70v7.20" stroke="#ff00ff" stroke-width="2.4" fill="none"/>
<path d="M1105.62,348.30h7.20M1109.22,344.70v7.20" stroke="#ff00ff" stroke-width="2.4" fill="none"/>
<path d="M1124.66,347.40h7.20M1128.26,343.80v7.20" stroke="#ff00ff" stroke-width="2.4" fill="none"/>
<path d="M1143.70,345.80h7.20M1147.30,342.20v7.20" stroke="#ff00ff" stroke-width="2.4" fill="none"/>
<path d="M1162.74,343.70h7.20M1166.34,340.10v7.20" stroke="#ff00ff" stroke-width="2.4" fill="none"/>
<path d="M1181.78,327.90h7.20M1185.38,324.30v7.20" stroke="#ff00ff" stroke-width="2.4" fill="none"/>
<path d="M1200.82,356.10h7.20M1204.42,352.50v7.20" stroke="#ff00ff" stroke-width="2.4" fill="none"/>
<path d="M1219.86,350.00h7.20M1223.46,346.40v7.20" stroke="#ff00ff" stroke-width="2.4" fill="none"/>
<path d="M1238.90,343.00h7.20M1242.50,339.40v7.20" stroke="#ff00ff" stroke-width="2.4" fill="none"/>
<path d="M1257.94,364.50h7.20M1261.54,360.90v7.20" stroke="#ff00ff" stroke-width="2.4" fill="none"/>
<path d="M1276.98,349.30h7.20M1280.58,345.70v7.20" stroke="#ff00ff" stroke-width="2.4" fill="none"/>
<path d="M1296.02,371.10h7.20M1299.62,367.50v7.20" stroke="#ff00ff" stroke-width="2.4" fill="none"/>
<path d="M1315.06,356.80h7.20M1318.66,353.20v7.20" stroke="#ff00ff" stroke-width="2.4" fill="none"/>
<path d="M762.90,274.20h7.20M766.50,270.60v7.20" stroke="#0000ff" stroke-width="2.4" fill="none"/>
<path d="M781.94,279.20h7.20M785.54,275.60v7.20" stroke="#0000ff" stroke-width="2.4" fill="none"/>
<path d="M800.98,308.70h7.20M804.58,305.10v7.20" stroke="#0000ff" stroke-width="2.4" fill="none"/>
<path d="M820.02,300.20h7.20M823.62,296.60v7.20" stroke="#0000ff" stroke-width="2.4" fill="none"/>
<path d="M839.06,284.60h7.20M842.66,281.00v7.20" stroke="#0000ff" stroke-width="2.4" fill="none"/>
<path d="M858.10,281.40h7.20M861.70,277.80v7.20" stroke="#0000ff" stroke-width="2.4" fill="none"/>
<path d="M877.14,288.60h7.20M880.74,285.00v7.20" stroke="#0000ff" stroke-width="2.4" fill="none"/>
<path d="M896.18,293.00h7.20M899.78,289.40v7.20" stroke="#0000ff" stroke-width="2.4" fill="none"/>
<path d="M915.22,301.80h7.20M918.82,298.20v7.20" stroke="#0000ff" stroke-width="2.4" fill="none"/>
<path d="M934.26,296.50h7.20M937.86,292.90v7.20" stroke="#0000ff" stroke-width="2.4" fill="none"/>
<path d="M953.30,288.30h7.20M956.90,284.70v7.20" stroke="#0000ff" stroke-width="2.4" fill="none"/>
<path d="M972.34,280.80h7.20M975.94,277.20v7.20" stroke="#0000ff" stroke-width="2.4" fill="none"/>
<path d="M991.38,265.80h7.20M994.98,262.20v7.20" stroke="#0000ff" stroke-width="2.4" fill="none"/>
<path d="M1010.42,269.50h7.20M1014.02,265.90v7.20" stroke="#0000ff" stroke-width="2.4" fill="none"/>
<path d="M1029.46,272.70h7.20M1033.06,269.10v7.20" stroke="#0000ff" stroke-width="2.4" fill="none"/>
<path d="M1048.50,283.00h7.20M1052.10,279.40v7.20" stroke="#0000ff" stroke-width="2.4" fill="none"/>
<path d="M1067.54,274.20h7.20M1071.14,270.60v7.20" stroke="#0000ff" stroke-width="2.4" fill="none"/>
<path d="M1086.58,267.30h7.20M1090.18,263.70v7.20" stroke="#0000ff" stroke-width="2.4" fill="none"/>
<path d="M1105.62,275.80h7.20M1109.22,272.20v7.20" stroke="#0000ff" stroke-width="2.4" fill="none"/>
<path d="M1124.66,274.20h7.20M1128.26,270.60v7.20" stroke="#0000ff" stroke-width="2.4" fill="none"/>
<path d="M1143.70,265.80h7.20M1147.30,262.20v7.20" stroke="#0000ff" stroke-width="2.4" fill="none"/>
<path d="M1162.74,264.20h7.20M1166.34,260.60v7.20" stroke="#0000ff" stroke-width="2.4" fill="none"/>
<path d="M1181.78,267.30h7.20M1185.38,263.70v7.20" stroke="#0000ff" stroke-width="2.4" fill="none"/>
<path d="M1200.82,284.60h7.20M1204.42,281.00v7.20" stroke="#0000ff" stroke-width="2.4" fill="none"/>
<path d="M1219.86,289.90h7.20M1223.46,286.30v7.20" stroke="#0000ff" stroke-width="2.4" fill="none"/>
<path d="M1238.90,296.50h7.20M1242.50,292.90v7.20" stroke="#0000ff" stroke-width="2.4" fill="none"/>
<path d="M1257.94,310.20h7.20M1261.54,306.60v7.20" stroke="#0000ff" stroke-width="2.4" fill="none"/>
<path d="M1276.98,276.70h7.20M1280.58,273.10v7.20" stroke="#0000ff" stroke-width="2.4" fill="none"/>
<path d="M1296.02,284.60h7.20M1299.62,281.00v7.20" stroke="#0000ff" stroke-width="2.4" fill="none"/>
<path d="M1315.06,279.20h7.20M1318.66,275.60v7.20" stroke="#0000ff" stroke-width="2.4" fill="none"/>
<path d="M766.50,180.10L772.50,190.50L760.50,190.50Z" fill="#ff0000"/>
<path d="M785.54,187.90L791.54,198.30L779.54,198.30Z" fill="#ff0000"/>
<path d="M804.58,122.10L810.58,132.50L798.58,132.50Z" fill="#ff0000"/>
<path d="M823.62,134.00L829.62,144.40L817.62,144.40Z" fill="#ff0000"/>
<path d="M842.66,100.20L848.66,110.60L836.66,110.60Z" fill="#ff0000"/>
<path d="M861.70,130.00L867.70,140.40L855.70,140.40Z" fill="#ff0000"/>
<path d="M880.74,156.60L886.74,167.00L874.74,167.00Z" fill="#ff0000"/>
<path d="M899.78,122.10L905.78,132.50L893.78,132.50Z" fill="#ff0000"/>
<path d="M918.82,126.20L924.82,136.60L912.82,136.60Z" fill="#ff0000"/>
<path d="M937.86,137.80L943.86,148.20L931.86,148.20Z" fill="#ff0000"/>
<path d="M956.90,126.80L962.90,137.20L950.90,137.20Z" fill="#ff0000"/>
<path d="M975.94,137.80L981.94,148.20L969.94,148.20Z" fill="#ff0000"/>
<path d="M994.98,126.80L1000.98,137.20L988.98,137.20Z" fill="#ff0000"/>
<path d="M1014.02,134.00L1020.02,144.40L1008.02,144.40Z" fill="#ff0000"/>
<path d="M1033.06,122.10L1039.06,132.50L1027.06,132.50Z" fill="#ff0000"/>
<path d="M1052.10,156.60L1058.10,167.00L1046.10,167.00Z" fill="#ff0000"/>
<path d="M1071.14,79.90L1077.14,90.30L1065.14,90.30Z" fill="#ff0000"/>
<path d="M1090.18,134.00L1096.18,144.40L1084.18,144.40Z" fill="#ff0000"/>
<path d="M1109.22,187.90L1115.22,198.30L1103.22,198.30Z" fill="#ff0000"/>
<path d="M1128.26,161.30L1134.26,171.70L1122.26,171.70Z" fill="#ff0000"/>
<path d="M1147.30,145.60L1153.30,156.00L1141.30,156.00Z" fill="#ff0000"/>
<path d="M1166.34,137.80L1172.34,148.20L1160.34,148.20Z" fill="#ff0000"/>
<path d="M1185.38,164.40L1191.38,174.80L1179.38,174.80Z" fill="#ff0000"/>
<path d="M1204.42,145.60L1210.42,156.00L1198.42,156.00Z" fill="#ff0000"/>
<path d="M1223.46,160.70L1229.46,171.10L1217.46,171.10Z" fill="#ff0000"/>
<path d="M1242.50,187.90L1248.50,198.30L1236.50,198.30Z" fill="#ff0000"/>
<path d="M1261.54,137.80L1267.54,148.20L1255.54,148.20Z" fill="#ff0000"/>
<path d="M1280.58,145.60L1286.58,156.00L1274.58,156.00Z" fill="#ff0000"/>
<path d="M1299.62,134.00L1305.62,144.40L1293.62,144.40Z" fill="#ff0000"/>
<path d="M1318.66,187.90L1324.66,198.30L1312.66,198.30Z" fill="#ff0000"/>
<path d="M1355.10,343.40h7.20M1358.70,339.80v7.20" stroke="#ff00ff" stroke-width="2.4" fill="none"/>
<path d="M1374.14,336.90h7.20M1377.74,333.30v7.20" stroke="#ff00ff" stroke-width="2.4" fill="none"/>
<path d="M1393.18,334.00h7.20M1396.78,330.40v7.20" stroke="#ff00ff" stroke-width="2.4" fill="none"/>
<path d="M1412.22,338.70h7.20M1415.82,335.10v7.20" stroke="#ff00ff" stroke-width="2.4" fill="none"/>
<path d="M1431.26,338.70h7.20M1434.86,335.10v7.20" stroke="#ff00ff" stroke-width="2.4" fill="none"/>
<path d="M1450.30,340.90h7.20M1453.90,337.30v7.20" stroke="#ff00ff" stroke-width="2.4" fill="none"/>
<path d="M1469.34,336.90h7.20M1472.94,333.30v7.20" stroke="#ff00ff" stroke-width="2.4" fill="none"/>
<path d="M1488.38,336.20h7.20M1491.98,332.60v7.20" stroke="#ff00ff" stroke-width="2.4" fill="none"/>
<path d="M1507.42,330.00h7.20M1511.02,326.40v7.20" stroke="#ff00ff" stroke-width="2.4" fill="none"/>
<path d="M1526.46,334.00h7.20M1530.06,330.40v7.20" stroke="#ff00ff" stroke-width="2.4" fill="none"/>
<path d="M1545.50,340.90h7.20M1549.10,337.30v7.20" stroke="#ff00ff" stroke-width="2.4" fill="none"/>
<path d="M1564.54,340.90h7.20M1568.14,337.30v7.20" stroke="#ff00ff" stroke-width="2.4" fill="none"/>
<path d="M1583.58,336.20h7.20M1587.18,332.60v7.20" stroke="#ff00ff" stroke-width="2.4" fill="none"/>
<path d="M1602.62,346.30h7.20M1606.22,342.70v7.20" stroke="#ff00ff" stroke-width="2.4" fill="none"/>
<path d="M1621.66,341.50h7.20M1625.26,337.90v7.20" stroke="#ff00ff" stroke-width="2.4" fill="none"/>
<path d="M1640.70,340.40h7.20M1644.30,336.80v7.20" stroke="#ff00ff" stroke-width="2.4" fill="none"/>
<path d="M1659.74,346.60h7.20M1663.34,343.00v7.20" stroke="#ff00ff" stroke-width="2.4" fill="none"/>
<path d="M1678.78,349.10h7.20M1682.38,345.50v7.20" stroke="#ff00ff" stroke-width="2.4" fill="none"/>
<path d="M1697.82,352.90h7.20M1701.42,349.30v7.20" stroke="#ff00ff" stroke-width="2.4" fill="none"/>
<path d="M1716.86,351.30h7.20M1720.46,347.70v7.20" stroke="#ff00ff" stroke-width="2.4" fill="none"/>
<path d="M1735.90,342.90h7.20M1739.50,339.30v7.20" stroke="#ff00ff" stroke-width="2.4" fill="none"/>
<path d="M1754.94,343.50h7.20M1758.54,339.90v7.20" stroke="#ff00ff" stroke-width="2.4" fill="none"/>
<path d="M1773.98,361.70h7.20M1777.58,358.10v7.20" stroke="#ff00ff" stroke-width="2.4" fill="none"/>
<path d="M1793.02,350.10h7.20M1796.62,346.50v7.20" stroke="#ff00ff" stroke-width="2.4" fill="none"/>
<path d="M1812.06,357.00h7.20M1815.66,353.40v7.20" stroke="#ff00ff" stroke-width="2.4" fill="none"/>
<path d="M1831.10,350.70h7.20M1834.70,347.10v7.20" stroke="#ff00ff" stroke-width="2.4" fill="none"/>
<path d="M1850.14,342.90h7.20M1853.74,339.30v7.20" stroke="#ff00ff" stroke-width="2.4" fill="none"/>
<path d="M1869.18,341.30h7.20M1872.78,337.70v7.20" stroke="#ff00ff" stroke-width="2.4" fill="none"/>
<path d="M1888.22,342.90h7.20M1891.82,339.30v7.20" stroke="#ff00ff" stroke-width="2.4" fill="none"/>
<path d="M1907.26,341.90h7.20M1910.86,338.30v7.20" stroke="#ff00ff" stroke-width="2.4" fill="none"/>
<path d="M1355.10,252.60h7.20M1358.70,249.00v7.20" stroke="#0000ff" stroke-width="2.4" fill="none"/>
<path d="M1374.14,250.10h7.20M1377.74,246.50v7.20" stroke="#0000ff" stroke-width="2.4" fill="none"/>
<path d="M1393.18,249.20h7.20M1396.78,245.60v7.20" stroke="#0000ff" stroke-width="2.4" fill="none"/>
<path d="M1412.22,251.70h7.20M1415.82,248.10v7.20" stroke="#0000ff" stroke-width="2.4" fill="none"/>
<path d="M1431.26,256.40h7.20M1434.86,252.80v7.20" stroke="#0000ff" stroke-width="2.4" fill="none"/>
<path d="M1450.30,257.60h7.20M1453.90,254.00v7.20" stroke="#0000ff" stroke-width="2.4" fill="none"/>
<path d="M1469.34,257.60h7.20M1472.94,254.00v7.20" stroke="#0000ff" stroke-width="2.4" fill="none"/>
<path d="M1488.38,285.20h7.20M1491.98,281.60v7.20" stroke="#0000ff" stroke-width="2.4" fill="none"/>
<path d="M1507.42,289.30h7.20M1511.02,285.70v7.20" stroke="#0000ff" stroke-width="2.4" fill="none"/>
<path d="M1526.46,286.10h7.20M1530.06,282.50v7.20" stroke="#0000ff" stroke-width="2.4" fill="none"/>
<path d="M1545.50,289.90h7.20M1549.10,286.30v7.20" stroke="#0000ff" stroke-width="2.4" fill="none"/>
<path d="M1564.54,283.00h7.20M1568.14,279.40v7.20" stroke="#0000ff" stroke-width="2.4" fill="none"/>
<path d="M1583.58,289.30h7.20M1587.18,285.70v7.20" stroke="#0000ff" stroke-width="2.4" fill="none"/>
<path d="M1602.62,289.90h7.20M1606.22,286.30v7.20" stroke="#0000ff" stroke-width="2.4" fill="none"/>
<path d="M1621.66,287.20h7.20M1625.26,283.60v7.20" stroke="#0000ff" stroke-width="2.4" fill="none"/>
<path d="M1640.70,290.60h7.20M1644.30,287.00v7.20" stroke="#0000ff" stroke-width="2.4" fill="none"/>
<path d="M1659.74,289.60h7.20M1663.34,286.00v7.20" stroke="#0000ff" stroke-width="2.4" fill="none"/>
<path d="M1678.78,299.00h7.20M1682.38,295.40v7.20" stroke="#0000ff" stroke-width="2.4" fill="none"/>
<path d="M1697.82,304.30h7.20M1701.42,300.70v7.20" stroke="#0000ff" stroke-width="2.4" fill="none"/>
<path d="M1716.86,289.60h7.20M1720.46,286.00v7.20" stroke="#0000ff" stroke-width="2.4" fill="none"/>
<path d="M1735.90,292.70h7.20M1739.50,289.10v7.20" stroke="#0000ff" stroke-width="2.4" fill="none"/>
<path d="M1754.94,295.90h7.20M1758.54,292.30v7.20" stroke="#0000ff" stroke-width="2.4" fill="none"/>
<path d="M1773.98,307.80h7.20M1777.58,304.20v7.20" stroke="#0000ff" stroke-width="2.4" fill="none"/>
<path d="M1793.02,326.30h7.20M1796.62,322.70v7.20" stroke="#0000ff" stroke-width="2.4" fill="none"/>
<path d="M1812.06,317.20h7.20M1815.66,313.60v7.20" stroke="#0000ff" stroke-width="2.4" fill="none"/>
<path d="M1831.10,307.80h7.20M1834.70,304.20v7.20" stroke="#0000ff" stroke-width="2.4" fill="none"/>
<path d="M1850.14,302.10h7.20M1853.74,298.50v7.20" stroke="#0000ff" stroke-width="2.4" fill="none"/>
<path d="M1869.18,314.70h7.20M1872.78,311.10v7.20" stroke="#0000ff" stroke-width="2.4" fill="none"/>
<path d="M1888.22,316.20h7.20M1891.82,312.60v7.20" stroke="#0000ff" stroke-width="2.4" fill="none"/>
<path d="M1907.26,317.20h7.20M1910.86,313.60v7.20" stroke="#0000ff" stroke-width="2.4" fill="none"/>
<path d="M1358.70,157.50L1364.70,167.90L1352.70,167.90Z" fill="#ff0000"/>
<path d="M1377.74,187.90L1383.74,198.30L1371.74,198.30Z" fill="#ff0000"/>
<path d="M1396.78,170.10L1402.78,180.50L1390.78,180.50Z" fill="#ff0000"/>
<path d="M1415.82,165.40L1421.82,175.80L1409.82,175.80Z" fill="#ff0000"/>
<path d="M1434.86,162.20L1440.86,172.60L1428.86,172.60Z" fill="#ff0000"/>
<path d="M1453.90,154.40L1459.90,164.80L1447.90,164.80Z" fill="#ff0000"/>
<path d="M1472.94,148.10L1478.94,158.50L1466.94,158.50Z" fill="#ff0000"/>
<path d="M1491.98,142.50L1497.98,152.90L1485.98,152.90Z" fill="#ff0000"/>
<path d="M1511.02,127.50L1517.02,137.90L1505.02,137.90Z" fill="#ff0000"/>
<path d="M1530.06,119.00L1536.06,129.40L1524.06,129.40Z" fill="#ff0000"/>
<path d="M1549.10,111.80L1555.10,122.20L1543.10,122.20Z" fill="#ff0000"/>
<path d="M1568.14,122.10L1574.14,132.50L1562.14,132.50Z" fill="#ff0000"/>
<path d="M1587.18,127.50L1593.18,137.90L1581.18,137.90Z" fill="#ff0000"/>
<path d="M1606.22,89.90L1612.22,100.30L1600.22,100.30Z" fill="#ff0000"/>
<path d="M1625.26,132.50L1631.26,142.90L1619.26,142.90Z" fill="#ff0000"/>
<path d="M1644.30,145.40L1650.30,155.80L1638.30,155.80Z" fill="#ff0000"/>
<path d="M1663.34,74.90L1669.34,85.30L1657.34,85.30Z" fill="#ff0000"/>
<path d="M1682.38,164.20L1688.38,174.60L1676.38,174.60Z" fill="#ff0000"/>
<path d="M1701.42,146.90L1707.42,157.30L1695.42,157.30Z" fill="#ff0000"/>
<path d="M1720.46,142.20L1726.46,152.60L1714.46,152.60Z" fill="#ff0000"/>
<path d="M1739.50,149.10L1745.50,159.50L1733.50,159.50Z" fill="#ff0000"/>
<path d="M1758.54,143.80L1764.54,154.20L1752.54,154.20Z" fill="#ff0000"/>
<path d="M1777.58,131.30L1783.58,141.70L1771.58,141.70Z" fill="#ff0000"/>
<path d="M1796.62,138.20L1802.62,148.60L1790.62,148.60Z" fill="#ff0000"/>
<path d="M1815.66,152.60L1821.66,163.00L1809.66,163.00Z" fill="#ff0000"/>
<path d="M1834.70,132.80L1840.70,143.20L1828.70,143.20Z" fill="#ff0000"/>
<path d="M1853.74,151.60L1859.74,162.00L1847.74,162.00Z" fill="#ff0000"/>
<path d="M1872.78,139.70L1878.78,150.10L1866.78,150.10Z" fill="#ff0000"/>
<path d="M1891.82,139.10L1897.82,149.50L1885.82,149.50Z" fill="#ff0000"/>
<path d="M1910.86,127.20L1916.86,137.60L1904.86,137.60Z" fill="#ff0000"/>
<rect x="222.50" y="433.80" width="19.04" height="1.20" fill="#808080" stroke="#000" stroke-width="1.2"/>
<rect x="241.54" y="401.70" width="19.04" height="33.30" fill="#808080" stroke="#000" stroke-width="1.2"/>
<rect x="298.66" y="426.70" width="19.04" height="8.30" fill="#808080" stroke="#000" stroke-width="1.2"/>
<rect x="317.70" y="432.80" width="19.04" height="2.20" fill="#808080" stroke="#000" stroke-width="1.2"/>
<rect x="336.74" y="409.30" width="19.04" height="25.70" fill="#808080" stroke="#000" stroke-width="1.2"/>
<rect x="355.78" y="430.30" width="19.04" height="4.70" fill="#808080" stroke="#000" stroke-width="1.2"/>
<rect x="374.82" y="398.00" width="19.04" height="37.00" fill="#808080" stroke="#000" stroke-width="1.2"/>
<rect x="393.86" y="431.20" width="19.04" height="3.80" fill="#808080" stroke="#000" stroke-width="1.2"/>
<rect x="412.90" y="433.80" width="19.04" height="1.20" fill="#808080" stroke="#000" stroke-width="1.2"/>
<rect x="431.94" y="430.30" width="19.04" height="4.70" fill="#808080" stroke="#000" stroke-width="1.2"/>
<rect x="546.18" y="324.60" width="19.04" height="110.40" fill="#808080" stroke="#000" stroke-width="1.2"/>
<rect x="603.30" y="433.80" width="19.04" height="1.20" fill="#808080" stroke="#000" stroke-width="1.2"/>
<rect x="622.34" y="385.20" width="19.04" height="49.80" fill="#808080" stroke="#000" stroke-width="1.2"/>
<rect x="679.46" y="410.40" width="19.04" height="24.60" fill="#808080" stroke="#000" stroke-width="1.2"/>
<rect x="698.50" y="404.30" width="19.04" height="30.70" fill="#808080" stroke="#000" stroke-width="1.2"/>
<rect x="776.02" y="408.00" width="19.04" height="27.00" fill="#808080" stroke="#000" stroke-width="1.2"/>
<rect x="795.06" y="431.50" width="19.04" height="3.50" fill="#808080" stroke="#000" stroke-width="1.2"/>
<rect x="852.18" y="414.30" width="19.04" height="20.70" fill="#808080" stroke="#000" stroke-width="1.2"/>
<rect x="909.30" y="398.60" width="19.04" height="36.40" fill="#808080" stroke="#000" stroke-width="1.2"/>
<rect x="928.34" y="373.30" width="19.04" height="61.70" fill="#808080" stroke="#000" stroke-width="1.2"/>
<rect x="947.38" y="432.80" width="19.04" height="2.20" fill="#808080" stroke="#000" stroke-width="1.2"/>
<rect x="966.42" y="425.60" width="19.04" height="9.40" fill="#808080" stroke="#000" stroke-width="1.2"/>
<rect x="985.46" y="430.60" width="19.04" height="4.40" fill="#808080" stroke="#000" stroke-width="1.2"/>
<rect x="1004.50" y="429.60" width="19.04" height="5.40" fill="#808080" stroke="#000" stroke-width="1.2"/>
<rect x="1080.66" y="430.30" width="19.04" height="4.70" fill="#808080" stroke="#000" stroke-width="1.2"/>
<rect x="1099.70" y="423.40" width="19.04" height="11.60" fill="#808080" stroke="#000" stroke-width="1.2"/>
<rect x="1118.74" y="427.80" width="19.04" height="7.20" fill="#808080" stroke="#000" stroke-width="1.2"/>
<rect x="1175.86" y="407.40" width="19.04" height="27.60" fill="#808080" stroke="#000" stroke-width="1.2"/>
<rect x="1194.90" y="420.60" width="19.04" height="14.40" fill="#808080" stroke="#000" stroke-width="1.2"/>
<rect x="1232.98" y="424.00" width="19.04" height="11.00" fill="#808080" stroke="#000" stroke-width="1.2"/>
<rect x="1252.02" y="357.60" width="19.04" height="77.40" fill="#808080" stroke="#000" stroke-width="1.2"/>
<rect x="1271.06" y="421.50" width="19.04" height="13.50" fill="#808080" stroke="#000" stroke-width="1.2"/>
<rect x="1290.10" y="433.80" width="19.04" height="1.20" fill="#808080" stroke="#000" stroke-width="1.2"/>
<rect x="1309.14" y="425.60" width="19.04" height="9.40" fill="#808080" stroke="#000" stroke-width="1.2"/>
<rect x="1368.22" y="428.40" width="19.04" height="6.60" fill="#808080" stroke="#000" stroke-width="1.2"/>
<rect x="1425.34" y="427.40" width="19.04" height="7.60" fill="#808080" stroke="#000" stroke-width="1.2"/>
<rect x="1444.38" y="424.30" width="19.04" height="10.70" fill="#808080" stroke="#000" stroke-width="1.2"/>
<rect x="1463.42" y="407.10" width="19.04" height="27.90" fill="#808080" stroke="#000" stroke-width="1.2"/>
<rect x="1482.46" y="401.50" width="19.04" height="33.50" fill="#808080" stroke="#000" stroke-width="1.2"/>
<rect x="1501.50" y="401.50" width="19.04" height="33.50" fill="#808080" stroke="#000" stroke-width="1.2"/>
<rect x="1520.54" y="417.10" width="19.04" height="17.90" fill="#808080" stroke="#000" stroke-width="1.2"/>
<rect x="1539.58" y="414.90" width="19.04" height="20.10" fill="#808080" stroke="#000" stroke-width="1.2"/>
<rect x="1558.62" y="432.80" width="19.04" height="2.20" fill="#808080" stroke="#000" stroke-width="1.2"/>
<rect x="1577.66" y="382.70" width="19.04" height="52.30" fill="#808080" stroke="#000" stroke-width="1.2"/>
<rect x="1653.82" y="424.90" width="19.04" height="10.10" fill="#808080" stroke="#000" stroke-width="1.2"/>
<rect x="1672.86" y="427.40" width="19.04" height="7.60" fill="#808080" stroke="#000" stroke-width="1.2"/>
<rect x="1691.90" y="429.00" width="19.04" height="6.00" fill="#808080" stroke="#000" stroke-width="1.2"/>
<rect x="1768.06" y="374.20" width="19.04" height="60.80" fill="#808080" stroke="#000" stroke-width="1.2"/>
<rect x="1806.14" y="401.80" width="19.04" height="33.20" fill="#808080" stroke="#000" stroke-width="1.2"/>
<rect x="1825.18" y="419.60" width="19.04" height="15.40" fill="#808080" stroke="#000" stroke-width="1.2"/>
<rect x="1844.22" y="424.90" width="19.04" height="10.10" fill="#808080" stroke="#000" stroke-width="1.2"/>
<rect x="1882.30" y="424.00" width="19.04" height="11.00" fill="#808080" stroke="#000" stroke-width="1.2"/>
<rect x="1901.34" y="421.20" width="19.04" height="13.80" fill="#808080" stroke="#000" stroke-width="1.2"/>
<path d="M174.90,435.00 L176.63,434.76 L178.36,434.53 L180.09,434.33 L181.82,434.16 L183.55,434.04 L185.29,433.98 L187.02,434.00 L188.75,434.09 L190.48,434.28 L192.21,434.58 L193.94,435.00 L195.53,435.49 L197.11,436.04 L198.70,436.60 L200.29,437.11 L201.87,437.54 L203.46,437.82 L205.05,437.91 L206.63,437.76 L208.22,437.31 L209.81,436.52 L211.39,435.33 L212.98,433.70 L214.71,431.38 L216.44,428.58 L218.17,425.40 L219.90,421.96 L221.63,418.37 L223.37,414.72 L225.10,411.14 L226.83,407.73 L228.56,404.60 L230.29,401.85 L232.02,399.60 L233.75,397.93 L235.48,396.79 L237.21,396.13 L238.94,395.87 L240.67,395.96 L242.41,396.31 L244.14,396.88 L245.87,397.59 L247.60,398.37 L249.33,399.16 L251.06,399.90 L252.65,400.48 L254.23,400.95 L255.82,401.32 L257.41,401.58 L258.99,401.74 L260.58,401.80 L262.17,401.75 L263.75,401.59 L265.34,401.33 L266.93,400.96 L268.51,400.48 L270.10,399.90 L271.83,399.15 L273.56,398.30 L275.29,397.38 L277.02,396.44 L278.75,395.51 L280.49,394.60 L282.22,393.77 L283.95,393.04 L285.68,392.45 L287.41,392.02 L289.14,391.80 L290.73,391.79 L292.31,391.92 L293.90,392.15 L295.49,392.41 L297.07,392.67 L298.66,392.87 L300.25,392.96 L301.83,392.88 L303.42,392.59 L305.01,392.03 L306.59,391.15 L308.18,389.90 L309.77,388.25 L311.35,386.25 L312.94,383.99 L314.53,381.52 L316.11,378.93 L317.70,376.29 L319.29,373.68 L320.87,371.16 L322.46,368.82 L324.05,366.73 L325.63,364.97 L327.22,363.60 L328.95,362.61 L330.68,362.08 L332.41,361.87 L334.14,361.89 L335.87,362.01 L337.61,362.13 L339.34,362.12 L341.07,361.88 L342.80,361.29 L344.53,360.23 L346.26,358.60 L347.99,356.31 L349.72,353.45 L351.45,350.14 L353.18,346.48 L354.91,342.61 L356.65,338.64 L358.38,334.68 L360.11,330.86 L361.84,327.30 L363.57,324.10 L365.30,321.40 L366.89,319.43 L368.47,317.92 L370.06,316.82 L371.65,316.08 L373.23,315.65 L374.82,315.48 L376.41,315.51 L377.99,315.70 L379.58,315.99 L381.17,316.34 L382.75,316.69 L384.34,317.00 L386.07,317.23 L387.80,317.36 L389.53,317.39 L391.26,317.34 L392.99,317.21 L394.73,317.01 L396.46,316.76 L398.19,316.46 L399.92,316.13 L401.65,315.77 L403.38,315.40 L405.11,315.02 L406.84,314.64 L408.57,314.27 L410.30,313.90 L412.03,313.55 L413.77,313.22 L415.50,312.91 L417.23,312.62 L418.96,312.38 L420.69,312.17 L422.42,312.00 L424.01,311.89 L425.59,311.81 L427.18,311.76 L428.77,311.74 L430.35,311.73 L431.94,311.74 L433.53,311.76 L435.11,311.78 L436.70,311.80 L438.29,311.81 L439.87,311.82 L441.46,311.80 L443.19,311.76 L444.92,311.70 L446.65,311.63 L448.38,311.55 L450.11,311.47 L451.85,311.40 L453.58,311.34 L455.31,311.31 L457.04,311.30 L458.77,311.33 L460.50,311.40 L462.23,311.51 L463.96,311.66 L465.69,311.81 L467.42,311.97 L469.15,312.10 L470.89,312.18 L472.62,312.21 L474.35,312.17 L476.08,312.03 L477.81,311.78 L479.54,311.40 L481.13,310.93 L482.71,310.39 L484.30,309.82 L485.89,309.27 L487.47,308.80 L489.06,308.43 L490.65,308.23 L492.23,308.25 L493.82,308.53 L495.41,309.11 L496.99,310.05 L498.58,311.40 L500.31,313.34 L502.04,315.59 L503.77,317.91 L505.50,320.07 L507.23,321.85 L508.97,323.01 L510.70,323.32 L512.43,322.54 L514.16,320.45 L515.89,316.82 L517.62,311.40 L519.35,304.07 L521.08,295.11 L522.81,284.86 L524.54,273.70 L526.27,262.00 L528.01,250.12 L529.74,238.43 L531.47,227.30 L533.20,217.09 L534.93,208.17 L536.66,200.90 L538.39,195.55 L540.12,191.99 L541.85,189.97 L543.58,189.26 L545.31,189.62 L547.05,190.81 L548.78,192.60 L550.51,194.74 L552.24,196.99 L553.97,199.13 L555.70,200.90 L557.29,202.05 L558.87,202.76 L560.46,203.11 L562.05,203.16 L563.63,202.98 L565.22,202.63 L566.81,202.19 L568.39,201.72 L569.98,201.29 L571.57,200.96 L573.15,200.81 L574.74,200.90 L576.47,201.32 L578.20,201.99 L579.93,202.80 L581.66,203.62 L583.39,204.34 L585.13,204.84 L586.86,205.01 L588.59,204.73 L590.32,203.88 L592.05,202.34 L593.78,200.00 L595.51,196.79 L597.24,192.82 L598.97,188.26 L600.70,183.27 L602.43,178.02 L604.17,172.67 L605.90,167.38 L607.63,162.33 L609.36,157.67 L611.09,153.58 L612.82,150.20 L614.41,147.85 L615.99,146.17 L617.58,145.09 L619.17,144.54 L620.75,144.43 L622.34,144.71 L623.93,145.29 L625.51,146.11 L627.10,147.08 L628.69,148.13 L630.27,149.20 L631.86,150.20 L633.59,151.15 L635.32,151.93 L637.05,152.54 L638.78,152.96 L640.51,153.19 L642.25,153.23 L643.98,153.06 L645.71,152.68 L647.44,152.08 L649.17,151.26 L650.90,150.20 L652.63,148.91 L654.36,147.39 L656.09,145.65 L657.82,143.71 L659.55,141.57 L661.29,139.25 L663.02,136.76 L664.75,134.11 L666.48,131.31 L668.21,128.37 L669.94,125.30 L671.67,122.12 L673.40,118.88 L675.13,115.61 L676.86,112.37 L678.59,109.21 L680.33,106.17 L682.06,103.30 L683.79,100.65 L685.52,98.27 L687.25,96.20 L688.98,94.50 L690.57,93.29 L692.15,92.39 L693.74,91.78 L695.33,91.43 L696.91,91.31 L698.50,91.39 L700.09,91.65 L701.67,92.05 L703.26,92.56 L704.85,93.16 L706.43,93.81 L708.02,94.50" stroke="#800080" stroke-width="1.8" fill="none" stroke-linejoin="round" clip-path="url(#plot)"/>
<path d="M766.50,435.00 L785.54,408.00 L804.58,404.00 L823.62,404.00 L842.66,404.00 L861.70,383.90 L880.74,383.90 L899.78,383.90 L918.82,346.80 L937.86,285.20 L956.90,283.00 L975.94,273.00 L994.98,268.00 L1014.02,262.60 L1033.06,262.60 L1052.10,262.60 L1071.14,262.60 L1090.18,257.90 L1109.22,245.40 L1128.26,238.50 L1147.30,238.50 L1166.34,238.50 L1185.38,210.30 L1204.42,195.60 L1223.46,195.60 L1242.50,184.60 L1261.54,107.00 L1280.58,92.90 L1299.62,91.90 L1318.66,82.50" stroke="#800080" stroke-width="1.5" fill="none" stroke-linejoin="round" clip-path="url(#plot)"/>
<path d="M1358.70,435.30 L1377.74,428.40 L1396.78,428.40 L1415.82,428.40 L1434.86,420.20 L1453.90,409.60 L1472.94,381.10 L1491.98,347.60 L1511.02,314.20 L1530.06,296.10 L1549.10,275.80 L1568.14,273.60 L1587.18,221.00 L1606.22,221.00 L1625.26,220.90 L1644.30,220.70 L1663.34,210.40 L1682.38,202.50 L1701.42,197.20 L1720.46,197.20 L1739.50,197.20 L1758.54,197.20 L1777.58,135.50 L1796.62,135.50 L1815.66,101.40 L1834.70,85.70 L1853.74,76.00 L1872.78,76.00 L1891.82,64.40 L1910.86,51.30" stroke="#800080" stroke-width="1.5" fill="none" stroke-linejoin="round" clip-path="url(#plot)"/>
<circle cx="212.98" cy="433.70" r="5.6" fill="#800080"/>
<circle cx="232.02" cy="399.60" r="5.6" fill="#800080"/>
<circle cx="251.06" cy="399.90" r="5.6" fill="#800080"/>
<circle cx="270.10" cy="399.90" r="5.6" fill="#800080"/>
<circle cx="289.14" cy="391.80" r="5.6" fill="#800080"/>
<circle cx="308.18" cy="389.90" r="5.6" fill="#800080"/>
<circle cx="327.22" cy="363.60" r="5.6" fill="#800080"/>
<circle cx="346.26" cy="358.60" r="5.6" fill="#800080"/>
<circle cx="365.30" cy="321.40" r="5.6" fill="#800080"/>
<circle cx="384.34" cy="317.00" r="5.6" fill="#800080"/>
<circle cx="403.38" cy="315.40" r="5.6" fill="#800080"/>
<circle cx="422.42" cy="312.00" r="5.6" fill="#800080"/>
<circle cx="441.46" cy="311.80" r="5.6" fill="#800080"/>
<circle cx="460.50" cy="311.40" r="5.6" fill="#800080"/>
<circle cx="479.54" cy="311.40" r="5.6" fill="#800080"/>
<circle cx="498.58" cy="311.40" r="5.6" fill="#800080"/>
<circle cx="517.62" cy="311.40" r="5.6" fill="#800080"/>
<circle cx="536.66" cy="200.90" r="5.6" fill="#800080"/>
<circle cx="555.70" cy="200.90" r="5.6" fill="#800080"/>
<circle cx="574.74" cy="200.90" r="5.6" fill="#800080"/>
<circle cx="593.78" cy="200.00" r="5.6" fill="#800080"/>
<circle cx="612.82" cy="150.20" r="5.6" fill="#800080"/>
<circle cx="631.86" cy="150.20" r="5.6" fill="#800080"/>
<circle cx="650.90" cy="150.20" r="5.6" fill="#800080"/>
<circle cx="669.94" cy="125.30" r="5.6" fill="#800080"/>
<circle cx="688.98" cy="94.50" r="5.6" fill="#800080"/>
<circle cx="708.02" cy="94.50" r="5.6" fill="#800080"/>
<circle cx="785.54" cy="408.00" r="5.6" fill="#800080"/>
<circle cx="804.58" cy="404.00" r="5.6" fill="#800080"/>
<circle cx="823.62" cy="404.00" r="5.6" fill="#800080"/>
<circle cx="842.66" cy="404.00" r="5.6" fill="#800080"/>
<circle cx="861.70" cy="383.90" r="5.6" fill="#800080"/>
<circle cx="880.74" cy="383.90" r="5.6" fill="#800080"/>
<circle cx="899.78" cy="383.90" r="5.6" fill="#800080"/>
<circle cx="918.82" cy="346.80" r="5.6" fill="#800080"/>
<circle cx="937.86" cy="285.20" r="5.6" fill="#800080"/>
<circle cx="956.90" cy="283.00" r="5.6" fill="#800080"/>
<circle cx="975.94" cy="273.00" r="5.6" fill="#800080"/>
<circle cx="994.98" cy="268.00" r="5.6" fill="#800080"/>
<circle cx="1014.02" cy="262.60" r="5.6" fill="#800080"/>
<circle cx="1033.06" cy="262.60" r="5.6" fill="#800080"/>
<circle cx="1052.10" cy="262.60" r="5.6" fill="#800080"/>
<circle cx="1071.14" cy="262.60" r="5.6" fill="#800080"/>
<circle cx="1090.18" cy="257.90" r="5.6" fill="#800080"/>
<circle cx="1109.22" cy="245.40" r="5.6" fill="#800080"/>
<circle cx="1128.26" cy="238.50" r="5.6" fill="#800080"/>
<circle cx="1147.30" cy="238.50" r="5.6" fill="#800080"/>
<circle cx="1166.34" cy="238.50" r="5.6" fill="#800080"/>
<circle cx="1185.38" cy="210.30" r="5.6" fill="#800080"/>
<circle cx="1204.42" cy="195.60" r="5.6" fill="#800080"/>
<circle cx="1223.46" cy="195.60" r="5.6" fill="#800080"/>
<circle cx="1242.50" cy="184.60" r="5.6" fill="#800080"/>
<circle cx="1261.54" cy="107.00" r="5.6" fill="#800080"/>
<circle cx="1280.58" cy="92.90" r="5.6" fill="#800080"/>
<circle cx="1299.62" cy="91.90" r="5.6" fill="#800080"/>
<circle cx="1318.66" cy="82.50" r="5.6" fill="#800080"/>
<circle cx="1358.70" cy="435.30" r="5.6" fill="#800080"/>
<circle cx="1377.74" cy="428.40" r="5.6" fill="#800080"/>
<circle cx="1396.78" cy="428.40" r="5.6" fill="#800080"/>
<circle cx="1415.82" cy="428.40" r="5.6" fill="#800080"/>
<circle cx="1434.86" cy="420.20" r="5.6" fill="#800080"/>
<circle cx="1453.90" cy="409.60" r="5.6" fill="#800080"/>
<circle cx="1472.94" cy="381.10" r="5.6" fill="#800080"/>
<circle cx="1491.98" cy="347.60" r="5.6" fill="#800080"/>
<circle cx="1511.02" cy="314.20" r="5.6" fill="#800080"/>
<circle cx="1530.06" cy="296.10" r="5.6" fill="#800080"/>
<circle cx="1549.10" cy="275.80" r="5.6" fill="#800080"/>
<circle cx="1568.14" cy="273.60" r="5.6" fill="#800080"/>
<circle cx="1587.18" cy="221.00" r="5.6" fill="#800080"/>
<circle cx="1606.22" cy="221.00" r="5.6" fill="#800080"/>
<circle cx="1625.26" cy="220.90" r="5.6" fill="#800080"/>
<circle cx="1644.30" cy="220.70" r="5.6" fill="#800080"/>
<circle cx="1663.34" cy="210.40" r="5.6" fill="#800080"/>
<circle cx="1682.38" cy="202.50" r="5.6" fill="#800080"/>
<circle cx="1701.42" cy="197.20" r="5.6" fill="#800080"/>
<circle cx="1720.46" cy="197.20" r="5.6" fill="#800080"/>
<circle cx="1739.50" cy="197.20" r="5.6" fill="#800080"/>
<circle cx="1758.54" cy="197.20" r="5.6" fill="#800080"/>
<circle cx="1777.58" cy="135.50" r="5.6" fill="#800080"/>
<circle cx="1796.62" cy="135.50" r="5.6" fill="#800080"/>
<circle cx="1815.66" cy="101.40" r="5.6" fill="#800080"/>
<circle cx="1834.70" cy="85.70" r="5.6" fill="#800080"/>
<circle cx="1853.74" cy="76.00" r="5.6" fill="#800080"/>
<circle cx="1872.78" cy="76.00" r="5.6" fill="#800080"/>
<circle cx="1891.82" cy="64.40" r="5.6" fill="#800080"/>
<circle cx="1910.86" cy="51.30" r="5.6" fill="#800080"/>
<text transform="translate(231.50 431.60) scale(0.95 1.02)" font-size="22" text-anchor="middle">1</text>
<text transform="translate(251.80 393.40) scale(0.95 1.02)" font-size="22" text-anchor="middle">27</text>
<text transform="translate(309.60 424.20) scale(0.95 1.02)" font-size="22" text-anchor="middle">7</text>
<text transform="translate(327.30 431.20) scale(0.95 1.02)" font-size="22" text-anchor="middle">2</text>
<text transform="translate(346.20 406.80) scale(0.95 1.02)" font-size="22" text-anchor="middle">21</text>
<text transform="translate(365.50 427.40) scale(0.95 1.02)" font-size="22" text-anchor="middle">4</text>
<text transform="translate(384.00 395.40) scale(0.95 1.02)" font-size="22" text-anchor="middle">31</text>
<text transform="translate(403.20 428.40) scale(0.95 1.02)" font-size="22" text-anchor="middle">3</text>
<text transform="translate(422.10 432.00) scale(0.95 1.02)" font-size="22" text-anchor="middle">1</text>
<text transform="translate(441.60 426.80) scale(0.95 1.02)" font-size="22" text-anchor="middle">4</text>
<text transform="translate(555.60 321.80) scale(0.95 1.02)" font-size="22" text-anchor="middle">91</text>
<text transform="translate(612.60 432.00) scale(0.95 1.02)" font-size="22" text-anchor="middle">1</text>
<text transform="translate(632.10 384.20) scale(0.95 1.02)" font-size="22" text-anchor="middle">41</text>
<text transform="translate(688.70 406.50) scale(0.95 1.02)" font-size="22" text-anchor="middle">20</text>
<text transform="translate(708.20 398.50) scale(0.95 1.02)" font-size="22" text-anchor="middle">25</text>
<text transform="translate(787.00 400.80) scale(0.95 1.02)" font-size="22" text-anchor="middle">22</text>
<text transform="translate(804.60 429.00) scale(0.95 1.02)" font-size="22" text-anchor="middle">3</text>
<text transform="translate(862.50 411.80) scale(0.95 1.02)" font-size="22" text-anchor="middle">17</text>
<text transform="translate(916.40 396.80) scale(0.95 1.02)" font-size="22" text-anchor="middle">30</text>
<text transform="translate(938.60 371.10) scale(0.95 1.02)" font-size="22" text-anchor="middle">51</text>
<text transform="translate(958.30 430.60) scale(0.95 1.02)" font-size="22" text-anchor="middle">2</text>
<text transform="translate(978.00 422.70) scale(0.95 1.02)" font-size="22" text-anchor="middle">8</text>
<text transform="translate(997.70 426.50) scale(0.95 1.02)" font-size="22" text-anchor="middle">4</text>
<text transform="translate(1016.20 425.90) scale(0.95 1.02)" font-size="22" text-anchor="middle">5</text>
<text transform="translate(1089.80 426.50) scale(0.95 1.02)" font-size="22" text-anchor="middle">4</text>
<text transform="translate(1109.70 419.60) scale(0.95 1.02)" font-size="22" text-anchor="middle">10</text>
<text transform="translate(1130.50 426.50) scale(0.95 1.02)" font-size="22" text-anchor="middle">6</text>
<text transform="translate(1185.80 404.00) scale(0.95 1.02)" font-size="22" text-anchor="middle">23</text>
<text transform="translate(1207.70 418.00) scale(0.95 1.02)" font-size="22" text-anchor="middle">12</text>
<text transform="translate(1243.30 421.80) scale(0.95 1.02)" font-size="22" text-anchor="middle">9</text>
<text transform="translate(1261.70 353.80) scale(0.95 1.02)" font-size="22" text-anchor="middle">64</text>
<text transform="translate(1283.20 419.60) scale(0.95 1.02)" font-size="22" text-anchor="middle">11</text>
<text transform="translate(1299.60 432.00) scale(0.95 1.02)" font-size="22" text-anchor="middle">1</text>
<text transform="translate(1318.40 423.40) scale(0.95 1.02)" font-size="22" text-anchor="middle">8</text>
<text transform="translate(1377.00 420.70) scale(0.95 1.02)" font-size="22" text-anchor="middle">6</text>
<text transform="translate(1436.50 413.30) scale(0.95 1.02)" font-size="22" text-anchor="middle">7</text>
<text transform="translate(1452.90 432.10) scale(0.95 1.02)" font-size="22" text-anchor="middle">10</text>
<text transform="translate(1471.40 406.10) scale(0.95 1.02)" font-size="22" text-anchor="middle">25</text>
<text transform="translate(1493.10 400.80) scale(0.95 1.02)" font-size="22" text-anchor="middle">30</text>
<text transform="translate(1515.20 400.80) scale(0.95 1.02)" font-size="22" text-anchor="middle">30</text>
<text transform="translate(1530.70 414.90) scale(0.95 1.02)" font-size="22" text-anchor="middle">16</text>
<text transform="translate(1552.70 413.30) scale(0.95 1.02)" font-size="22" text-anchor="middle">18</text>
<text transform="translate(1568.60 430.60) scale(0.95 1.02)" font-size="22" text-anchor="middle">2</text>
<text transform="translate(1587.20 380.50) scale(0.95 1.02)" font-size="22" text-anchor="middle">47</text>
<text transform="translate(1663.20 421.80) scale(0.95 1.02)" font-size="22" text-anchor="middle">9</text>
<text transform="translate(1682.30 422.70) scale(0.95 1.02)" font-size="22" text-anchor="middle">7</text>
<text transform="translate(1701.70 426.50) scale(0.95 1.02)" font-size="22" text-anchor="middle">5</text>
<text transform="translate(1777.70 372.60) scale(0.95 1.02)" font-size="22" text-anchor="middle">55</text>
<text transform="translate(1816.00 399.30) scale(0.95 1.02)" font-size="22" text-anchor="middle">30</text>
<text transform="translate(1835.60 418.00) scale(0.95 1.02)" font-size="22" text-anchor="middle">14</text>
<text transform="translate(1856.80 423.40) scale(0.95 1.02)" font-size="22" text-anchor="middle">9</text>
<text transform="translate(1888.00 422.70) scale(0.95 1.02)" font-size="22" text-anchor="middle">10</text>
<text transform="translate(1911.20 419.60) scale(0.95 1.02)" font-size="22" text-anchor="middle">12</text>




































<path d="M161.2,27.6H207.3" stroke="#0000ff" stroke-width="1.6"/><path d="M180.70,27.60h7.20M184.30,24.00v7.20" stroke="#0000ff" stroke-width="2.4" fill="none"/>
<path d="M160.8,51.7H206.8" stroke="#800080" stroke-width="1.6"/><circle cx="183.40" cy="51.70" r="5.6" fill="#800080"/>
<text x="210" y="33.2" font-size="23.5">Minimum temperature</text>
<text x="211" y="59.0" font-size="23.5">Accumulated rain</text>
<rect x="531.2" y="24.4" width="20.8" height="6" fill="#808080"/>
<text x="562" y="34.2" font-size="23.5">Rainfall</text>
<path d="M755.2,26.9H801.8" stroke="#ff00ff" stroke-width="1.6"/><path d="M775.00,26.90h7.20M778.60,23.30v7.20" stroke="#ff00ff" stroke-width="2.4" fill="none"/>
<path d="M756.7,54.1H803.3" stroke="#ff0000" stroke-width="1.6"/><path d="M779.80,47.40L785.80,57.80L773.80,57.80Z" fill="#ff0000"/>
<text x="811" y="33.6" font-size="23.5">Maximum temperature</text>
<text x="812.5" y="60.5" font-size="23.5">Relative humidity</text>
<text transform="translate(712.4 41.8) scale(1 1.05)" font-size="30">A</text>
<text transform="translate(1304.3 43.4) scale(1 1.05)" font-size="30">B</text>
<text transform="translate(1896.6 39.2) scale(1 1.05)" font-size="30">C</text>
</svg></body></html>
